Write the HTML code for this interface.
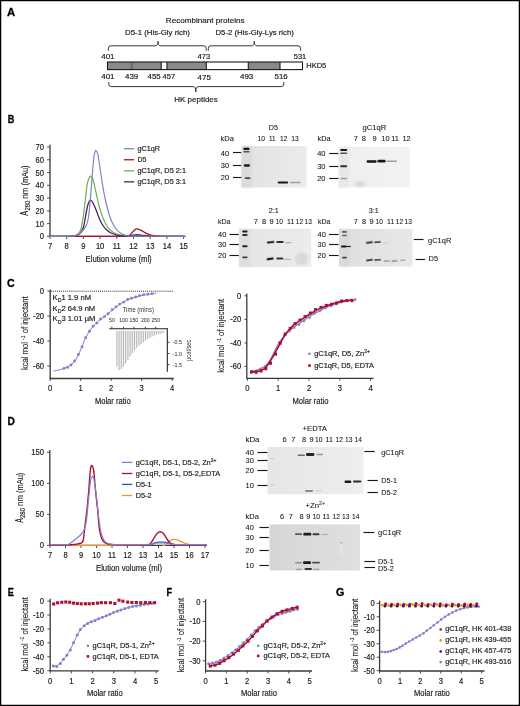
<!DOCTYPE html><html><head><meta charset="utf-8"><style>html,body{margin:0;padding:0;background:#fff;}svg{display:block;will-change:transform;}</style></head><body>
<svg width="520" height="706" viewBox="0 0 520 706" font-family='"Liberation Sans", sans-serif'>
<rect x="0" y="0" width="520" height="706" fill="#ffffff"/>
<text x="7.0" y="16.4" font-size="11.2" textLength="8.2" lengthAdjust="spacingAndGlyphs" font-weight="bold" fill="#000" stroke="#000" stroke-width="0.3">A</text>
<text x="7.7" y="123.2" font-size="11.2" textLength="6.6" lengthAdjust="spacingAndGlyphs" font-weight="bold" fill="#000" stroke="#000" stroke-width="0.3">B</text>
<text x="7.0" y="286.6" font-size="11.2" textLength="7.7" lengthAdjust="spacingAndGlyphs" font-weight="bold" fill="#000" stroke="#000" stroke-width="0.3">C</text>
<text x="7.6" y="425.4" font-size="11.2" textLength="7.4" lengthAdjust="spacingAndGlyphs" font-weight="bold" fill="#000" stroke="#000" stroke-width="0.3">D</text>
<text x="7.8" y="595.8" font-size="11.2" textLength="6.1" lengthAdjust="spacingAndGlyphs" font-weight="bold" fill="#000" stroke="#000" stroke-width="0.3">E</text>
<text x="166.6" y="595.8" font-size="11.2" textLength="5.6" lengthAdjust="spacingAndGlyphs" font-weight="bold" fill="#000" stroke="#000" stroke-width="0.3">F</text>
<text x="336.1" y="596.3" font-size="11.2" textLength="8.3" lengthAdjust="spacingAndGlyphs" font-weight="bold" fill="#000" stroke="#000" stroke-width="0.3">G</text>
<text x="165.8" y="22.6" font-size="7.6" textLength="78.8" lengthAdjust="spacingAndGlyphs" fill="#1c1c1c" stroke="#1c1c1c" stroke-width="0.18">Recombinant proteins</text>
<text x="125.0" y="34.5" font-size="7.6" textLength="65.0" lengthAdjust="spacingAndGlyphs" fill="#1c1c1c" stroke="#1c1c1c" stroke-width="0.18">D5-1 (His-Gly rich)</text>
<text x="215.5" y="34.5" font-size="7.6" textLength="78.3" lengthAdjust="spacingAndGlyphs" fill="#1c1c1c" stroke="#1c1c1c" stroke-width="0.18">D5-2 (His-Gly-Lys rich)</text>
<path d="M108.4,50.3 L108.4,48.3 Q108.4,45.8 110.9,45.8 L155.5,45.8 Q158.0,45.8 158.0,41.3 Q158.0,45.8 160.5,45.8 L203.7,45.8 Q206.2,45.8 206.2,48.3 L206.2,50.3" stroke="#231f20" stroke-width="0.9" fill="none" stroke-linejoin="round" stroke-linecap="round"/>
<path d="M208.3,50.3 L208.3,48.3 Q208.3,45.8 210.8,45.8 L251.8,45.8 Q254.3,45.8 254.3,41.3 Q254.3,45.8 256.8,45.8 L298.1,45.8 Q300.6,45.8 300.6,48.3 L300.6,50.3" stroke="#231f20" stroke-width="0.9" fill="none" stroke-linejoin="round" stroke-linecap="round"/>
<text x="101.3" y="58.8" font-size="7.2" textLength="13.2" lengthAdjust="spacingAndGlyphs" fill="#1c1c1c" stroke="#1c1c1c" stroke-width="0.18">401</text>
<text x="197.6" y="58.8" font-size="7.2" textLength="12.6" lengthAdjust="spacingAndGlyphs" fill="#1c1c1c" stroke="#1c1c1c" stroke-width="0.18">473</text>
<text x="293.8" y="58.8" font-size="7.2" textLength="12.4" lengthAdjust="spacingAndGlyphs" fill="#1c1c1c" stroke="#1c1c1c" stroke-width="0.18">531</text>
<rect x="107.5" y="62" width="195" height="8" fill="#ffffff"/>
<rect x="107.5" y="62" width="22.6" height="8" fill="#8a8a8a"/>
<rect x="130.1" y="62" width="3.7" height="8" fill="#6e6e6e"/>
<rect x="133.8" y="62" width="27.4" height="8" fill="#8a8a8a"/>
<rect x="167.0" y="62" width="39.3" height="8" fill="#8a8a8a"/>
<rect x="248.3" y="62" width="31.7" height="8" fill="#8a8a8a"/>
<line x1="161.2" y1="62" x2="161.2" y2="69.6" stroke="#1a1a1a" stroke-width="1.1"/>
<line x1="167.0" y1="62" x2="167.0" y2="69.6" stroke="#1a1a1a" stroke-width="1.1"/>
<line x1="206.3" y1="62" x2="206.3" y2="69.6" stroke="#1a1a1a" stroke-width="1.1"/>
<line x1="248.3" y1="62" x2="248.3" y2="69.6" stroke="#1a1a1a" stroke-width="1.1"/>
<line x1="280.0" y1="62" x2="280.0" y2="69.6" stroke="#1a1a1a" stroke-width="1.1"/>
<rect x="107.5" y="62" width="195" height="7.6" fill="none" stroke="#1a1a1a" stroke-width="1.1"/>
<text x="306.3" y="68.4" font-size="7.6" textLength="20.0" lengthAdjust="spacingAndGlyphs" fill="#1c1c1c" stroke="#1c1c1c" stroke-width="0.18">HKD5</text>
<text x="101.3" y="79.0" font-size="7.2" textLength="13.2" lengthAdjust="spacingAndGlyphs" fill="#1c1c1c" stroke="#1c1c1c" stroke-width="0.18">401</text>
<text x="125.0" y="79.0" font-size="7.2" textLength="13.2" lengthAdjust="spacingAndGlyphs" fill="#1c1c1c" stroke="#1c1c1c" stroke-width="0.18">439</text>
<text x="147.5" y="79.0" font-size="7.2" textLength="13.2" lengthAdjust="spacingAndGlyphs" fill="#1c1c1c" stroke="#1c1c1c" stroke-width="0.18">455</text>
<text x="162.5" y="79.0" font-size="7.2" textLength="12.6" lengthAdjust="spacingAndGlyphs" fill="#1c1c1c" stroke="#1c1c1c" stroke-width="0.18">457</text>
<text x="197.6" y="79.6" font-size="7.2" textLength="13.2" lengthAdjust="spacingAndGlyphs" fill="#1c1c1c" stroke="#1c1c1c" stroke-width="0.18">475</text>
<text x="240.0" y="79.0" font-size="7.2" textLength="13.2" lengthAdjust="spacingAndGlyphs" fill="#1c1c1c" stroke="#1c1c1c" stroke-width="0.18">493</text>
<text x="274.5" y="79.0" font-size="7.2" textLength="13.2" lengthAdjust="spacingAndGlyphs" fill="#1c1c1c" stroke="#1c1c1c" stroke-width="0.18">516</text>
<path d="M108.8,82.4 L108.8,84.1 Q108.8,86.6 111.3,86.6 L193.3,86.6 Q195.8,86.6 195.8,92.0 Q195.8,86.6 198.3,86.6 L281.3,86.6 Q283.8,86.6 283.8,84.1 L283.8,82.4" stroke="#231f20" stroke-width="0.9" fill="none" stroke-linejoin="round" stroke-linecap="round"/>
<text x="174.3" y="102.2" font-size="7.6" textLength="43.5" lengthAdjust="spacingAndGlyphs" fill="#1c1c1c" stroke="#1c1c1c" stroke-width="0.18">HK peptides</text>
<line x1="50" y1="144.8" x2="50" y2="236.4" stroke="#3a3a3a" stroke-width="1.3"/>
<line x1="49.4" y1="236.4" x2="184.8" y2="236.4" stroke="#3a3a3a" stroke-width="1.3"/>
<line x1="47.0" y1="236.4" x2="50" y2="236.4" stroke="#3a3a3a" stroke-width="0.9"/>
<text x="44.0" y="239.4" font-size="8.3" text-anchor="end" textLength="4.23" lengthAdjust="spacingAndGlyphs" fill="#1c1c1c" stroke="#1c1c1c" stroke-width="0.18">0</text>
<line x1="47.0" y1="223.63" x2="50" y2="223.63" stroke="#3a3a3a" stroke-width="0.9"/>
<text x="44.0" y="226.63" font-size="8.3" text-anchor="end" textLength="8.45" lengthAdjust="spacingAndGlyphs" fill="#1c1c1c" stroke="#1c1c1c" stroke-width="0.18">10</text>
<line x1="47.0" y1="210.86" x2="50" y2="210.86" stroke="#3a3a3a" stroke-width="0.9"/>
<text x="44.0" y="213.86" font-size="8.3" text-anchor="end" textLength="8.45" lengthAdjust="spacingAndGlyphs" fill="#1c1c1c" stroke="#1c1c1c" stroke-width="0.18">20</text>
<line x1="47.0" y1="198.09" x2="50" y2="198.09" stroke="#3a3a3a" stroke-width="0.9"/>
<text x="44.0" y="201.09" font-size="8.3" text-anchor="end" textLength="8.45" lengthAdjust="spacingAndGlyphs" fill="#1c1c1c" stroke="#1c1c1c" stroke-width="0.18">30</text>
<line x1="47.0" y1="185.32" x2="50" y2="185.32" stroke="#3a3a3a" stroke-width="0.9"/>
<text x="44.0" y="188.32" font-size="8.3" text-anchor="end" textLength="8.45" lengthAdjust="spacingAndGlyphs" fill="#1c1c1c" stroke="#1c1c1c" stroke-width="0.18">40</text>
<line x1="47.0" y1="172.55" x2="50" y2="172.55" stroke="#3a3a3a" stroke-width="0.9"/>
<text x="44.0" y="175.55" font-size="8.3" text-anchor="end" textLength="8.45" lengthAdjust="spacingAndGlyphs" fill="#1c1c1c" stroke="#1c1c1c" stroke-width="0.18">50</text>
<line x1="47.0" y1="159.78000000000003" x2="50" y2="159.78000000000003" stroke="#3a3a3a" stroke-width="0.9"/>
<text x="44.0" y="162.78000000000003" font-size="8.3" text-anchor="end" textLength="8.45" lengthAdjust="spacingAndGlyphs" fill="#1c1c1c" stroke="#1c1c1c" stroke-width="0.18">60</text>
<line x1="47.0" y1="147.01" x2="50" y2="147.01" stroke="#3a3a3a" stroke-width="0.9"/>
<text x="44.0" y="150.01" font-size="8.3" text-anchor="end" textLength="8.45" lengthAdjust="spacingAndGlyphs" fill="#1c1c1c" stroke="#1c1c1c" stroke-width="0.18">70</text>
<line x1="50.0" y1="236.4" x2="50.0" y2="239.0" stroke="#3a3a3a" stroke-width="0.9"/>
<text x="50.0" y="249.1" font-size="8.3" text-anchor="middle" textLength="4.23" lengthAdjust="spacingAndGlyphs" fill="#1c1c1c" stroke="#1c1c1c" stroke-width="0.18">7</text>
<line x1="66.7" y1="236.4" x2="66.7" y2="239.0" stroke="#3a3a3a" stroke-width="0.9"/>
<text x="66.7" y="249.1" font-size="8.3" text-anchor="middle" textLength="4.23" lengthAdjust="spacingAndGlyphs" fill="#1c1c1c" stroke="#1c1c1c" stroke-width="0.18">8</text>
<line x1="83.4" y1="236.4" x2="83.4" y2="239.0" stroke="#3a3a3a" stroke-width="0.9"/>
<text x="83.4" y="249.1" font-size="8.3" text-anchor="middle" textLength="4.23" lengthAdjust="spacingAndGlyphs" fill="#1c1c1c" stroke="#1c1c1c" stroke-width="0.18">9</text>
<line x1="100.1" y1="236.4" x2="100.1" y2="239.0" stroke="#3a3a3a" stroke-width="0.9"/>
<text x="100.1" y="249.1" font-size="8.3" text-anchor="middle" textLength="8.45" lengthAdjust="spacingAndGlyphs" fill="#1c1c1c" stroke="#1c1c1c" stroke-width="0.18">10</text>
<line x1="116.8" y1="236.4" x2="116.8" y2="239.0" stroke="#3a3a3a" stroke-width="0.9"/>
<text x="116.8" y="249.1" font-size="8.3" text-anchor="middle" textLength="7.89" lengthAdjust="spacingAndGlyphs" fill="#1c1c1c" stroke="#1c1c1c" stroke-width="0.18">11</text>
<line x1="133.5" y1="236.4" x2="133.5" y2="239.0" stroke="#3a3a3a" stroke-width="0.9"/>
<text x="133.5" y="249.1" font-size="8.3" text-anchor="middle" textLength="8.45" lengthAdjust="spacingAndGlyphs" fill="#1c1c1c" stroke="#1c1c1c" stroke-width="0.18">12</text>
<line x1="150.2" y1="236.4" x2="150.2" y2="239.0" stroke="#3a3a3a" stroke-width="0.9"/>
<text x="150.2" y="249.1" font-size="8.3" text-anchor="middle" textLength="8.45" lengthAdjust="spacingAndGlyphs" fill="#1c1c1c" stroke="#1c1c1c" stroke-width="0.18">13</text>
<line x1="166.89999999999998" y1="236.4" x2="166.89999999999998" y2="239.0" stroke="#3a3a3a" stroke-width="0.9"/>
<text x="166.89999999999998" y="249.1" font-size="8.3" text-anchor="middle" textLength="8.45" lengthAdjust="spacingAndGlyphs" fill="#1c1c1c" stroke="#1c1c1c" stroke-width="0.18">14</text>
<line x1="183.6" y1="236.4" x2="183.6" y2="239.0" stroke="#3a3a3a" stroke-width="0.9"/>
<text x="183.6" y="249.1" font-size="8.3" text-anchor="middle" textLength="8.45" lengthAdjust="spacingAndGlyphs" fill="#1c1c1c" stroke="#1c1c1c" stroke-width="0.18">15</text>
<text x="85.6" y="262.1" font-size="9.2" textLength="66.1" lengthAdjust="spacingAndGlyphs" fill="#1c1c1c" stroke="#1c1c1c" stroke-width="0.18">Elution volume (ml)</text>
<g transform="translate(27.7,215.7) rotate(-90)" fill="#1c1c1c" stroke="#1c1c1c" stroke-width="0.12">
<text x="0" y="0" font-size="10" textLength="4.9" lengthAdjust="spacingAndGlyphs">A</text>
<text x="5.1" y="1.8" font-size="7" textLength="10.0" lengthAdjust="spacingAndGlyphs">280</text>
<text x="17.0" y="0" font-size="9" textLength="11.1" lengthAdjust="spacingAndGlyphs">nm</text>
<text x="30.2" y="0" font-size="9" textLength="20.0" lengthAdjust="spacingAndGlyphs">(mAu)</text>
</g>
<path d="M50.00,236.40 C62.67,236.40 112.83,236.53 126.00,236.40 C139.17,236.27 128.17,236.00 129.00,235.60 C129.83,235.20 130.33,234.67 131.00,234.00 C131.67,233.33 132.33,232.33 133.00,231.60 C133.67,230.87 134.37,230.05 135.00,229.60 C135.63,229.15 136.13,228.95 136.80,228.90 C137.47,228.85 138.13,228.97 139.00,229.30 C139.87,229.63 140.83,230.25 142.00,230.90 C143.17,231.55 144.67,232.53 146.00,233.20 C147.33,233.87 148.50,234.45 150.00,234.90 C151.50,235.35 153.00,235.67 155.00,235.90 C157.00,236.13 157.03,236.22 162.00,236.30 C166.97,236.38 181.00,236.38 184.80,236.40" stroke="#ad1033" stroke-width="1.3" fill="none" stroke-linejoin="round" stroke-linecap="round"/>
<path d="M50.00,236.40 C53.33,236.38 65.83,236.43 70.00,236.30 C74.17,236.17 73.67,235.98 75.00,235.60 C76.33,235.22 77.17,234.68 78.00,234.00 C78.83,233.32 79.42,232.67 80.00,231.50 C80.58,230.33 81.00,229.25 81.50,227.00 C82.00,224.75 82.55,221.00 83.00,218.00 C83.45,215.00 83.82,212.00 84.20,209.00 C84.58,206.00 84.95,203.00 85.30,200.00 C85.65,197.00 85.97,193.67 86.30,191.00 C86.63,188.33 86.93,185.95 87.30,184.00 C87.67,182.05 88.00,180.60 88.50,179.30 C89.00,178.00 89.75,176.62 90.30,176.20 C90.85,175.78 91.35,176.25 91.80,176.80 C92.25,177.35 92.53,177.88 93.00,179.50 C93.47,181.12 94.02,184.00 94.60,186.50 C95.18,189.00 95.88,191.75 96.50,194.50 C97.12,197.25 97.55,200.00 98.30,203.00 C99.05,206.00 99.97,209.42 101.00,212.50 C102.03,215.58 103.17,218.78 104.50,221.50 C105.83,224.22 107.08,226.75 109.00,228.80 C110.92,230.85 113.50,232.67 116.00,233.80 C118.50,234.93 121.33,235.23 124.00,235.60 C126.67,235.97 129.83,236.03 132.00,236.00 C134.17,235.97 135.33,235.47 137.00,235.40 C138.67,235.33 139.83,235.48 142.00,235.60 C144.17,235.72 147.00,235.98 150.00,236.10 C153.00,236.22 154.20,236.25 160.00,236.30 C165.80,236.35 180.67,236.38 184.80,236.40" stroke="#6ab446" stroke-width="1.2" fill="none" stroke-linejoin="round" stroke-linecap="round"/>
<path d="M50.00,236.40 C53.33,236.38 65.67,236.43 70.00,236.30 C74.33,236.17 74.50,235.95 76.00,235.60 C77.50,235.25 78.08,234.87 79.00,234.20 C79.92,233.53 80.75,232.80 81.50,231.60 C82.25,230.40 82.92,229.02 83.50,227.00 C84.08,224.98 84.50,222.17 85.00,219.50 C85.50,216.83 85.95,213.67 86.50,211.00 C87.05,208.33 87.63,205.30 88.30,203.50 C88.97,201.70 89.75,200.35 90.50,200.20 C91.25,200.05 91.88,201.00 92.80,202.60 C93.72,204.20 94.97,207.27 96.00,209.80 C97.03,212.33 98.00,215.43 99.00,217.80 C100.00,220.17 100.83,222.10 102.00,224.00 C103.17,225.90 104.50,227.70 106.00,229.20 C107.50,230.70 109.00,231.98 111.00,233.00 C113.00,234.02 115.50,234.80 118.00,235.30 C120.50,235.80 123.83,235.95 126.00,236.00 C128.17,236.05 129.50,235.78 131.00,235.60 C132.50,235.42 133.67,235.03 135.00,234.90 C136.33,234.77 137.67,234.72 139.00,234.80 C140.33,234.88 141.17,235.18 143.00,235.40 C144.83,235.62 147.17,235.95 150.00,236.10 C152.83,236.25 154.20,236.25 160.00,236.30 C165.80,236.35 180.67,236.38 184.80,236.40" stroke="#4e1d63" stroke-width="1.3" fill="none" stroke-linejoin="round" stroke-linecap="round"/>
<path d="M50.00,236.40 C53.33,236.37 65.67,236.35 70.00,236.20 C74.33,236.05 74.33,236.00 76.00,235.50 C77.67,235.00 78.67,234.25 80.00,233.20 C81.33,232.15 82.92,230.57 84.00,229.20 C85.08,227.83 85.83,226.53 86.50,225.00 C87.17,223.47 87.58,222.00 88.00,220.00 C88.42,218.00 88.67,215.83 89.00,213.00 C89.33,210.17 89.67,206.67 90.00,203.00 C90.33,199.33 90.67,195.08 91.00,191.00 C91.33,186.92 91.67,182.67 92.00,178.50 C92.33,174.33 92.63,169.92 93.00,166.00 C93.37,162.08 93.83,157.47 94.20,155.00 C94.57,152.53 94.90,151.92 95.20,151.20 C95.50,150.48 95.70,150.60 96.00,150.70 C96.30,150.80 96.67,151.08 97.00,151.80 C97.33,152.52 97.58,152.88 98.00,155.00 C98.42,157.12 98.92,160.67 99.50,164.50 C100.08,168.33 100.83,173.67 101.50,178.00 C102.17,182.33 102.75,186.42 103.50,190.50 C104.25,194.58 105.08,198.58 106.00,202.50 C106.92,206.42 108.00,210.75 109.00,214.00 C110.00,217.25 110.83,219.50 112.00,222.00 C113.17,224.50 114.50,227.10 116.00,229.00 C117.50,230.90 119.33,232.35 121.00,233.40 C122.67,234.45 123.83,234.85 126.00,235.30 C128.17,235.75 124.20,235.93 134.00,236.10 C143.80,236.27 176.33,236.27 184.80,236.30" stroke="#8080cc" stroke-width="1.2" fill="none" stroke-linejoin="round" stroke-linecap="round"/>
<line x1="124.0" y1="148.7" x2="134.2" y2="148.7" stroke="#8080cc" stroke-width="1.3"/>
<text x="137.4" y="151.29999999999998" font-size="7.2" textLength="22.6" lengthAdjust="spacingAndGlyphs" fill="#1c1c1c" stroke="#1c1c1c" stroke-width="0.18">gC1qR</text>
<line x1="124.0" y1="159.75" x2="134.2" y2="159.75" stroke="#ad1033" stroke-width="1.3"/>
<text x="137.4" y="162.35" font-size="7.2" textLength="9.0" lengthAdjust="spacingAndGlyphs" fill="#1c1c1c" stroke="#1c1c1c" stroke-width="0.18">D5</text>
<line x1="124.0" y1="170.79999999999998" x2="134.2" y2="170.79999999999998" stroke="#6ab446" stroke-width="1.3"/>
<text x="137.4" y="173.39999999999998" font-size="7.2" textLength="48.6" lengthAdjust="spacingAndGlyphs" fill="#1c1c1c" stroke="#1c1c1c" stroke-width="0.18">gC1qR, D5 2:1</text>
<line x1="124.0" y1="181.85" x2="134.2" y2="181.85" stroke="#4e1d63" stroke-width="1.3"/>
<text x="137.4" y="184.45" font-size="7.2" textLength="48.6" lengthAdjust="spacingAndGlyphs" fill="#1c1c1c" stroke="#1c1c1c" stroke-width="0.18">gC1qR, D5 3:1</text>
<defs><filter id="bl" x="-20%" y="-200%" width="140%" height="500%"><feGaussianBlur stdDeviation="0.65"/></filter><filter id="bl2" x="-50%" y="-50%" width="200%" height="200%"><feGaussianBlur stdDeviation="1.2"/></filter></defs>
<linearGradient id="g241146" x1="0" y1="0" x2="1" y2="0"><stop offset="0" stop-color="#e2e2e2"/><stop offset="1" stop-color="#ebebeb"/></linearGradient>
<rect x="241.3" y="146" width="65.2" height="41.6" fill="url(#g241146)"/>
<rect x="242" y="146" width="10" height="41.6" fill="#d6d6d6" filter="url(#bl2)" opacity="0.6"/>
<rect x="243.2" y="147.70" width="6.40" height="2.2" rx="1.1" fill="#161616" filter="url(#bl)"/>
<rect x="243.4" y="151.00" width="6.20" height="1.6" rx="0.8" fill="#505050" filter="url(#bl)"/>
<rect x="243.8" y="164.35" width="6.20" height="2.3" rx="1.15" fill="#1a1a1a" filter="url(#bl)"/>
<rect x="244.8" y="177.30" width="5.70" height="1.8" rx="0.9" fill="#4a4a4a" filter="url(#bl)"/>
<rect x="277.7" y="181.40" width="10.50" height="2.0" rx="1.0" fill="#1a1a1a" filter="url(#bl)"/>
<rect x="290.0" y="181.85" width="10.80" height="1.5" rx="0.75" fill="#a0a0a0" filter="url(#bl)"/>
<text x="268.8" y="130.0" font-size="7.6" textLength="9.2" lengthAdjust="spacingAndGlyphs" fill="#141414" stroke="#141414" stroke-width="0.07">D5</text>
<text x="220.5" y="141.3" font-size="7.4" textLength="13.3" lengthAdjust="spacingAndGlyphs" fill="#141414" stroke="#141414" stroke-width="0.07">kDa</text>
<text x="257.5" y="141.3" font-size="7.4" textLength="7.4" lengthAdjust="spacingAndGlyphs" fill="#141414" stroke="#141414" stroke-width="0.07">10</text>
<text x="269.0" y="141.3" font-size="7.4" textLength="6.6" lengthAdjust="spacingAndGlyphs" fill="#141414" stroke="#141414" stroke-width="0.07">11</text>
<text x="280.0" y="141.3" font-size="7.4" textLength="7.4" lengthAdjust="spacingAndGlyphs" fill="#141414" stroke="#141414" stroke-width="0.07">12</text>
<text x="291.3" y="141.3" font-size="7.4" textLength="7.4" lengthAdjust="spacingAndGlyphs" fill="#141414" stroke="#141414" stroke-width="0.07">13</text>
<text x="220.8" y="155.5" font-size="7.4" textLength="8.3" lengthAdjust="spacingAndGlyphs" fill="#141414" stroke="#141414" stroke-width="0.07">40</text>
<line x1="233.0" y1="152.5" x2="241.3" y2="152.5" stroke="#1a1a1a" stroke-width="1.15"/>
<text x="220.8" y="168.1" font-size="7.4" textLength="8.3" lengthAdjust="spacingAndGlyphs" fill="#141414" stroke="#141414" stroke-width="0.07">30</text>
<line x1="233.0" y1="165.5" x2="241.3" y2="165.5" stroke="#1a1a1a" stroke-width="1.15"/>
<text x="220.8" y="180.1" font-size="7.4" textLength="8.3" lengthAdjust="spacingAndGlyphs" fill="#141414" stroke="#141414" stroke-width="0.07">20</text>
<line x1="233.0" y1="177.5" x2="241.3" y2="177.5" stroke="#1a1a1a" stroke-width="1.15"/>
<linearGradient id="g338146" x1="0" y1="0" x2="1" y2="0"><stop offset="0" stop-color="#eeeeee"/><stop offset="1" stop-color="#f3f3f3"/></linearGradient>
<rect x="338.4" y="146.8" width="71.6" height="40.7" fill="url(#g338146)"/>
<rect x="339" y="146.8" width="10" height="40.7" fill="#e4e4e4" filter="url(#bl2)" opacity="0.6"/>
<rect x="340.2" y="149.05" width="7.00" height="1.9" rx="0.95" fill="#1e1e1e" filter="url(#bl)"/>
<rect x="340.2" y="152.40" width="7.00" height="1.6" rx="0.8" fill="#555" filter="url(#bl)"/>
<rect x="340.2" y="165.35" width="7.00" height="1.9" rx="0.95" fill="#2e2e2e" filter="url(#bl)"/>
<rect x="340.4" y="177.75" width="6.80" height="1.5" rx="0.75" fill="#9a9a9a" filter="url(#bl)"/>
<rect x="366.6" y="160.15" width="10.00" height="2.5" rx="1.2" fill="#121212" filter="url(#bl)"/>
<rect x="377.4" y="159.75" width="8.20" height="2.7" rx="1.2" fill="#121212" filter="url(#bl)"/>
<rect x="386.3" y="160.60" width="10.70" height="1.4" rx="0.7" fill="#a0a0a0" filter="url(#bl)"/>
<ellipse cx="360" cy="184" rx="5.8" ry="3.0" fill="#d8d8d8" filter="url(#bl2)"/>
<text x="362.5" y="130.0" font-size="7.6" textLength="23.8" lengthAdjust="spacingAndGlyphs" fill="#141414" stroke="#141414" stroke-width="0.07">gC1qR</text>
<text x="317.5" y="141.3" font-size="7.4" textLength="13.0" lengthAdjust="spacingAndGlyphs" fill="#141414" stroke="#141414" stroke-width="0.07">kDa</text>
<text x="353.8" y="141.3" font-size="7.4" fill="#141414" stroke="#141414" stroke-width="0.07">7</text>
<text x="361.8" y="141.3" font-size="7.4" fill="#141414" stroke="#141414" stroke-width="0.07">8</text>
<text x="372.5" y="141.3" font-size="7.4" fill="#141414" stroke="#141414" stroke-width="0.07">9</text>
<text x="381.3" y="141.3" font-size="7.4" fill="#141414" stroke="#141414" stroke-width="0.07">10</text>
<text x="391.3" y="141.3" font-size="7.4" fill="#141414" stroke="#141414" stroke-width="0.07">11</text>
<text x="402.5" y="141.3" font-size="7.4" fill="#141414" stroke="#141414" stroke-width="0.07">12</text>
<text x="317.2" y="156.1" font-size="7.4" textLength="8.3" lengthAdjust="spacingAndGlyphs" fill="#141414" stroke="#141414" stroke-width="0.07">40</text>
<line x1="329.2" y1="153.5" x2="338.4" y2="153.5" stroke="#1a1a1a" stroke-width="1.15"/>
<text x="317.2" y="169.1" font-size="7.4" textLength="8.3" lengthAdjust="spacingAndGlyphs" fill="#141414" stroke="#141414" stroke-width="0.07">30</text>
<line x1="329.2" y1="166.5" x2="338.4" y2="166.5" stroke="#1a1a1a" stroke-width="1.15"/>
<text x="317.2" y="181.1" font-size="7.4" textLength="8.3" lengthAdjust="spacingAndGlyphs" fill="#141414" stroke="#141414" stroke-width="0.07">20</text>
<line x1="329.2" y1="178.5" x2="338.4" y2="178.5" stroke="#1a1a1a" stroke-width="1.15"/>
<linearGradient id="g238228" x1="0" y1="0" x2="1" y2="0"><stop offset="0" stop-color="#e4e4e4"/><stop offset="1" stop-color="#ececec"/></linearGradient>
<rect x="238.8" y="228.8" width="72.5" height="38.2" fill="url(#g238228)"/>
<rect x="240" y="228.8" width="10" height="38.2" fill="#dadada" filter="url(#bl2)" opacity="0.6"/>
<rect x="242.2" y="230.50" width="5.40" height="2.0" rx="1.0" fill="#1e1e1e" filter="url(#bl)"/>
<rect x="242.2" y="234.10" width="5.40" height="1.8" rx="0.9" fill="#2e2e2e" filter="url(#bl)"/>
<rect x="242.2" y="245.20" width="5.40" height="2.0" rx="1.0" fill="#222" filter="url(#bl)"/>
<rect x="242.2" y="256.40" width="5.40" height="1.8" rx="0.9" fill="#3a3a3a" filter="url(#bl)"/>
<rect x="266.8" y="241.25" width="7.70" height="2.1" rx="1.05" fill="#1e1e1e" filter="url(#bl)" transform="rotate(-6 270.65 242.30)"/>
<rect x="276.3" y="241.10" width="7.40" height="2.0" rx="1.0" fill="#2e2e2e" filter="url(#bl)"/>
<rect x="285.0" y="241.95" width="6.30" height="1.3" rx="0.65" fill="#b0b0b0" filter="url(#bl)"/>
<rect x="266.5" y="257.85" width="7.20" height="2.1" rx="1.05" fill="#1e1e1e" filter="url(#bl)" transform="rotate(-9 270.10 258.90)"/>
<rect x="276.3" y="257.55" width="7.10" height="1.9" rx="0.95" fill="#383838" filter="url(#bl)"/>
<rect x="284.0" y="258.65" width="7.00" height="1.3" rx="0.65" fill="#bcbcbc" filter="url(#bl)"/>
<circle cx="301.4" cy="258.8" r="6.8" fill="#dadada" filter="url(#bl2)"/>
<text x="268.8" y="213.0" font-size="7.6" textLength="10.0" lengthAdjust="spacingAndGlyphs" fill="#141414" stroke="#141414" stroke-width="0.07">2:1</text>
<text x="218.0" y="223.8" font-size="7.4" textLength="12.5" lengthAdjust="spacingAndGlyphs" fill="#141414" stroke="#141414" stroke-width="0.07">kDa</text>
<text x="253.8" y="223.8" font-size="7.4" fill="#141414" stroke="#141414" stroke-width="0.07">7</text>
<text x="262.0" y="223.8" font-size="7.4" fill="#141414" stroke="#141414" stroke-width="0.07">8</text>
<text x="269.5" y="223.8" font-size="7.4" fill="#141414" stroke="#141414" stroke-width="0.07">9</text>
<text x="275.5" y="223.8" font-size="7.4" textLength="7.3" lengthAdjust="spacingAndGlyphs" fill="#141414" stroke="#141414" stroke-width="0.07">10</text>
<text x="287.0" y="223.8" font-size="7.4" textLength="7.3" lengthAdjust="spacingAndGlyphs" fill="#141414" stroke="#141414" stroke-width="0.07">11</text>
<text x="295.8" y="223.8" font-size="7.4" textLength="7.3" lengthAdjust="spacingAndGlyphs" fill="#141414" stroke="#141414" stroke-width="0.07">12</text>
<text x="304.5" y="223.8" font-size="7.4" textLength="7.3" lengthAdjust="spacingAndGlyphs" fill="#141414" stroke="#141414" stroke-width="0.07">13</text>
<text x="218.0" y="236.9" font-size="7.4" textLength="8.3" lengthAdjust="spacingAndGlyphs" fill="#141414" stroke="#141414" stroke-width="0.07">40</text>
<line x1="229.5" y1="234.5" x2="238.8" y2="234.5" stroke="#1a1a1a" stroke-width="1.15"/>
<text x="218.0" y="247.1" font-size="7.4" textLength="8.3" lengthAdjust="spacingAndGlyphs" fill="#141414" stroke="#141414" stroke-width="0.07">30</text>
<line x1="229.5" y1="244.5" x2="238.8" y2="244.5" stroke="#1a1a1a" stroke-width="1.15"/>
<text x="218.0" y="257.6" font-size="7.4" textLength="8.3" lengthAdjust="spacingAndGlyphs" fill="#141414" stroke="#141414" stroke-width="0.07">20</text>
<line x1="229.5" y1="255.5" x2="238.8" y2="255.5" stroke="#1a1a1a" stroke-width="1.15"/>
<linearGradient id="g339229" x1="0" y1="0" x2="1" y2="0"><stop offset="0" stop-color="#dedede"/><stop offset="1" stop-color="#e8e8e8"/></linearGradient>
<rect x="339.0" y="229.0" width="73.5" height="37.5" fill="url(#g339229)"/>
<rect x="340" y="229.0" width="10" height="37.5" fill="#d6d6d6" filter="url(#bl2)" opacity="0.6"/>
<rect x="342" y="231.10" width="4.80" height="1.6" rx="0.8" fill="#5a5a5a" filter="url(#bl)"/>
<rect x="342" y="234.70" width="4.80" height="1.6" rx="0.8" fill="#6a6a6a" filter="url(#bl)"/>
<rect x="341" y="245.40" width="5.50" height="2.2" rx="1.1" fill="#141414" filter="url(#bl)"/>
<rect x="342" y="256.70" width="5.00" height="1.8" rx="0.9" fill="#4a4a4a" filter="url(#bl)"/>
<line x1="345" y1="246.5" x2="350.8" y2="246.5" stroke="#1a1a1a" stroke-width="1.1"/>
<text x="368.8" y="213.0" font-size="7.6" textLength="10.0" lengthAdjust="spacingAndGlyphs" fill="#141414" stroke="#141414" stroke-width="0.07">3:1</text>
<text x="318.0" y="223.8" font-size="7.4" textLength="12.5" lengthAdjust="spacingAndGlyphs" fill="#141414" stroke="#141414" stroke-width="0.07">kDa</text>
<text x="353.8" y="223.8" font-size="7.4" fill="#141414" stroke="#141414" stroke-width="0.07">7</text>
<text x="362.0" y="223.8" font-size="7.4" fill="#141414" stroke="#141414" stroke-width="0.07">8</text>
<text x="369.5" y="223.8" font-size="7.4" fill="#141414" stroke="#141414" stroke-width="0.07">9</text>
<text x="375.5" y="223.8" font-size="7.4" textLength="7.3" lengthAdjust="spacingAndGlyphs" fill="#141414" stroke="#141414" stroke-width="0.07">10</text>
<text x="387.0" y="223.8" font-size="7.4" textLength="7.3" lengthAdjust="spacingAndGlyphs" fill="#141414" stroke="#141414" stroke-width="0.07">11</text>
<text x="395.8" y="223.8" font-size="7.4" textLength="7.3" lengthAdjust="spacingAndGlyphs" fill="#141414" stroke="#141414" stroke-width="0.07">12</text>
<text x="404.5" y="223.8" font-size="7.4" textLength="7.3" lengthAdjust="spacingAndGlyphs" fill="#141414" stroke="#141414" stroke-width="0.07">13</text>
<text x="317.5" y="237.1" font-size="7.4" textLength="8.3" lengthAdjust="spacingAndGlyphs" fill="#141414" stroke="#141414" stroke-width="0.07">40</text>
<line x1="329.0" y1="234.5" x2="338.6" y2="234.5" stroke="#1a1a1a" stroke-width="1.15"/>
<text x="317.5" y="247.29999999999998" font-size="7.4" textLength="8.3" lengthAdjust="spacingAndGlyphs" fill="#141414" stroke="#141414" stroke-width="0.07">30</text>
<line x1="329.0" y1="244.5" x2="338.6" y2="244.5" stroke="#1a1a1a" stroke-width="1.15"/>
<text x="317.5" y="257.6" font-size="7.4" textLength="8.3" lengthAdjust="spacingAndGlyphs" fill="#141414" stroke="#141414" stroke-width="0.07">20</text>
<line x1="329.0" y1="255.5" x2="338.6" y2="255.5" stroke="#1a1a1a" stroke-width="1.15"/>
<rect x="366.0" y="241.60" width="6.90" height="1.8" rx="0.9" fill="#383838" filter="url(#bl)" transform="rotate(-9 369.45 242.50)"/>
<rect x="374.2" y="241.35" width="6.70" height="1.7" rx="0.85" fill="#484848" filter="url(#bl)" transform="rotate(-4 377.55 242.20)"/>
<rect x="383.0" y="242.45" width="6.00" height="1.1" rx="0.55" fill="#cccccc" filter="url(#bl)"/>
<rect x="366.0" y="259.15" width="7.00" height="1.9" rx="0.95" fill="#333" filter="url(#bl)" transform="rotate(-9 369.50 260.10)"/>
<rect x="374.2" y="259.05" width="6.80" height="1.7" rx="0.85" fill="#555" filter="url(#bl)" transform="rotate(-3 377.60 259.90)"/>
<rect x="383.7" y="260.35" width="6.10" height="1.5" rx="0.75" fill="#a0a0a0" filter="url(#bl)"/>
<rect x="391.4" y="260.20" width="6.10" height="1.6" rx="0.8" fill="#8e8e8e" filter="url(#bl)" transform="rotate(-5 394.45 261.00)"/>
<rect x="399.8" y="259.60" width="6.20" height="1.4" rx="0.7" fill="#b0b0b0" filter="url(#bl)" transform="rotate(-5 402.90 260.30)"/>
<line x1="413.8" y1="239.5" x2="423.5" y2="239.5" stroke="#1a1a1a" stroke-width="1.15"/>
<text x="428.1" y="242.5" font-size="7.6" textLength="23.2" lengthAdjust="spacingAndGlyphs" fill="#141414" stroke="#141414" stroke-width="0.07">gC1qR</text>
<line x1="415.6" y1="259.5" x2="425.0" y2="259.5" stroke="#1a1a1a" stroke-width="1.15"/>
<text x="428.5" y="261.3" font-size="7.6" textLength="9.6" lengthAdjust="spacingAndGlyphs" fill="#141414" stroke="#141414" stroke-width="0.07">D5</text>
<line x1="50.2" y1="289.4" x2="50.2" y2="378.5" stroke="#3a3a3a" stroke-width="1.3"/>
<line x1="49.6" y1="378.5" x2="173.8" y2="378.5" stroke="#3a3a3a" stroke-width="1.3"/>
<line x1="50.8" y1="291.2" x2="173" y2="291.2" stroke="#222" stroke-width="1.0" stroke-dasharray="1,1.05"/>
<line x1="47.3" y1="291.1" x2="50.2" y2="291.1" stroke="#3a3a3a" stroke-width="0.9"/>
<text x="44.1" y="294.1" font-size="8.3" text-anchor="end" textLength="4.23" lengthAdjust="spacingAndGlyphs" fill="#1c1c1c" stroke="#1c1c1c" stroke-width="0.18">0</text>
<line x1="47.3" y1="316.05" x2="50.2" y2="316.05" stroke="#3a3a3a" stroke-width="0.9"/>
<text x="44.1" y="319.05" font-size="8.3" text-anchor="end" textLength="10.98" lengthAdjust="spacingAndGlyphs" fill="#1c1c1c" stroke="#1c1c1c" stroke-width="0.18">-20</text>
<line x1="47.3" y1="341.0" x2="50.2" y2="341.0" stroke="#3a3a3a" stroke-width="0.9"/>
<text x="44.1" y="344.0" font-size="8.3" text-anchor="end" textLength="10.98" lengthAdjust="spacingAndGlyphs" fill="#1c1c1c" stroke="#1c1c1c" stroke-width="0.18">-40</text>
<line x1="47.3" y1="365.95000000000005" x2="50.2" y2="365.95000000000005" stroke="#3a3a3a" stroke-width="0.9"/>
<text x="44.1" y="368.95000000000005" font-size="8.3" text-anchor="end" textLength="10.98" lengthAdjust="spacingAndGlyphs" fill="#1c1c1c" stroke="#1c1c1c" stroke-width="0.18">-60</text>
<line x1="50.2" y1="378.5" x2="50.2" y2="381.0" stroke="#3a3a3a" stroke-width="0.9"/>
<text x="50.2" y="391.3" font-size="8.3" text-anchor="middle" textLength="4.23" lengthAdjust="spacingAndGlyphs" fill="#1c1c1c" stroke="#1c1c1c" stroke-width="0.18">0</text>
<line x1="80.7" y1="378.5" x2="80.7" y2="381.0" stroke="#3a3a3a" stroke-width="0.9"/>
<text x="80.7" y="391.3" font-size="8.3" text-anchor="middle" textLength="4.23" lengthAdjust="spacingAndGlyphs" fill="#1c1c1c" stroke="#1c1c1c" stroke-width="0.18">1</text>
<line x1="111.2" y1="378.5" x2="111.2" y2="381.0" stroke="#3a3a3a" stroke-width="0.9"/>
<text x="111.2" y="391.3" font-size="8.3" text-anchor="middle" textLength="4.23" lengthAdjust="spacingAndGlyphs" fill="#1c1c1c" stroke="#1c1c1c" stroke-width="0.18">2</text>
<line x1="141.7" y1="378.5" x2="141.7" y2="381.0" stroke="#3a3a3a" stroke-width="0.9"/>
<text x="141.7" y="391.3" font-size="8.3" text-anchor="middle" textLength="4.23" lengthAdjust="spacingAndGlyphs" fill="#1c1c1c" stroke="#1c1c1c" stroke-width="0.18">3</text>
<line x1="172.2" y1="378.5" x2="172.2" y2="381.0" stroke="#3a3a3a" stroke-width="0.9"/>
<text x="172.2" y="391.3" font-size="8.3" text-anchor="middle" textLength="4.23" lengthAdjust="spacingAndGlyphs" fill="#1c1c1c" stroke="#1c1c1c" stroke-width="0.18">4</text>
<text x="94.9" y="403.9" font-size="9.0" textLength="35.8" lengthAdjust="spacingAndGlyphs" fill="#1c1c1c" stroke="#1c1c1c" stroke-width="0.18">Molar ratio</text>
<text transform="translate(28.2,370.1) rotate(-90)" font-size="9" fill="#1c1c1c" stroke="#1c1c1c" stroke-width="0.12" textLength="73.8" lengthAdjust="spacingAndGlyphs">kcal mol <tspan font-size="5.8" dy="-3.4">-1</tspan><tspan dy="3.4"> of injectant</tspan></text>
<text x="52.6" y="300.0" font-size="7.6" fill="#1c1c1c" stroke="#1c1c1c" stroke-width="0.18">K<tspan font-size="5.2" dy="2.1">D</tspan><tspan dy="-2.1">1 1.9 nM</tspan></text>
<text x="52.6" y="310.7" font-size="7.6" fill="#1c1c1c" stroke="#1c1c1c" stroke-width="0.18">K<tspan font-size="5.2" dy="2.1">D</tspan><tspan dy="-2.1">2 64.9 nM</tspan></text>
<text x="52.6" y="321.4" font-size="7.6" fill="#1c1c1c" stroke="#1c1c1c" stroke-width="0.18">K<tspan font-size="5.2" dy="2.1">D</tspan><tspan dy="-2.1">3 1.01 µM</tspan></text>
<path d="M54.00,371.00 C55.00,370.78 58.00,370.27 60.00,369.70 C62.00,369.13 64.17,368.42 66.00,367.60 C67.83,366.78 69.50,365.93 71.00,364.80 C72.50,363.67 73.75,362.50 75.00,360.80 C76.25,359.10 77.42,356.82 78.50,354.60 C79.58,352.38 80.50,349.90 81.50,347.50 C82.50,345.10 83.42,342.53 84.50,340.20 C85.58,337.87 86.75,335.57 88.00,333.50 C89.25,331.43 90.50,329.65 92.00,327.80 C93.50,325.95 95.17,324.10 97.00,322.40 C98.83,320.70 100.83,319.33 103.00,317.60 C105.17,315.87 107.50,314.00 110.00,312.00 C112.50,310.00 115.33,307.50 118.00,305.60 C120.67,303.70 123.33,301.93 126.00,300.60 C128.67,299.27 131.33,298.47 134.00,297.60 C136.67,296.73 139.33,296.00 142.00,295.40 C144.67,294.80 147.70,294.37 150.00,294.00 C152.30,293.63 154.83,293.33 155.80,293.20" stroke="#8080cc" stroke-width="1.0" fill="none" stroke-linejoin="round" stroke-linecap="round"/>
<circle cx="64" cy="368.4" r="1.45" fill="#8080cc"/>
<circle cx="67.6" cy="367.4" r="1.45" fill="#8080cc"/>
<circle cx="71" cy="365" r="1.45" fill="#8080cc"/>
<circle cx="74.6" cy="361" r="1.45" fill="#8080cc"/>
<circle cx="78.4" cy="354.4" r="1.45" fill="#8080cc"/>
<circle cx="82" cy="347" r="1.45" fill="#8080cc"/>
<circle cx="85.6" cy="337.8" r="1.45" fill="#8080cc"/>
<circle cx="89.4" cy="331.3" r="1.45" fill="#8080cc"/>
<circle cx="93.1" cy="326.3" r="1.45" fill="#8080cc"/>
<circle cx="96.9" cy="323.1" r="1.45" fill="#8080cc"/>
<circle cx="100.6" cy="319" r="1.45" fill="#8080cc"/>
<circle cx="104.4" cy="316.6" r="1.45" fill="#8080cc"/>
<circle cx="108.1" cy="313.8" r="1.45" fill="#8080cc"/>
<circle cx="112.25" cy="309.8" r="1.45" fill="#8080cc"/>
<circle cx="116" cy="306.9" r="1.45" fill="#8080cc"/>
<circle cx="119.75" cy="304.1" r="1.45" fill="#8080cc"/>
<circle cx="123.75" cy="302.1" r="1.45" fill="#8080cc"/>
<circle cx="127.75" cy="299.4" r="1.45" fill="#8080cc"/>
<circle cx="131.5" cy="298.2" r="1.45" fill="#8080cc"/>
<circle cx="135.6" cy="297.0" r="1.45" fill="#8080cc"/>
<circle cx="139.6" cy="295.6" r="1.45" fill="#8080cc"/>
<circle cx="143.7" cy="294.6" r="1.45" fill="#8080cc"/>
<circle cx="147.8" cy="294.3" r="1.45" fill="#8080cc"/>
<circle cx="151.9" cy="293.8" r="1.45" fill="#8080cc"/>
<line x1="109.3" y1="328.8" x2="167.3" y2="328.8" stroke="#222" stroke-width="1.1"/>
<line x1="167.3" y1="328.2" x2="167.3" y2="371.7" stroke="#222" stroke-width="1.1"/>
<line x1="111.9" y1="326.6" x2="111.9" y2="328.8" stroke="#222" stroke-width="0.8"/>
<text x="111.9" y="321.5" font-size="5.6" text-anchor="middle" textLength="5.8" lengthAdjust="spacingAndGlyphs" fill="#1c1c1c">50</text>
<line x1="123.5" y1="326.6" x2="123.5" y2="328.8" stroke="#222" stroke-width="0.8"/>
<text x="123.5" y="321.5" font-size="5.6" text-anchor="middle" textLength="8.6" lengthAdjust="spacingAndGlyphs" fill="#1c1c1c">100</text>
<line x1="133.9" y1="326.6" x2="133.9" y2="328.8" stroke="#222" stroke-width="0.8"/>
<text x="133.9" y="321.5" font-size="5.6" text-anchor="middle" textLength="8.6" lengthAdjust="spacingAndGlyphs" fill="#1c1c1c">150</text>
<line x1="145.3" y1="326.6" x2="145.3" y2="328.8" stroke="#222" stroke-width="0.8"/>
<text x="145.3" y="321.5" font-size="5.6" text-anchor="middle" textLength="8.6" lengthAdjust="spacingAndGlyphs" fill="#1c1c1c">200</text>
<line x1="155.8" y1="326.6" x2="155.8" y2="328.8" stroke="#222" stroke-width="0.8"/>
<text x="155.8" y="321.5" font-size="5.6" text-anchor="middle" textLength="8.6" lengthAdjust="spacingAndGlyphs" fill="#1c1c1c">250</text>
<text x="122.7" y="312.0" font-size="7.0" textLength="31.2" lengthAdjust="spacingAndGlyphs" fill="#333">Time (mins)</text>
<line x1="167.3" y1="342.3" x2="169.6" y2="342.3" stroke="#222" stroke-width="0.8"/>
<text x="172.7" y="344.3" font-size="5.6" textLength="9.2" lengthAdjust="spacingAndGlyphs" fill="#1c1c1c">-0.5</text>
<line x1="167.3" y1="353.5" x2="169.6" y2="353.5" stroke="#222" stroke-width="0.8"/>
<text x="172.7" y="355.5" font-size="5.6" textLength="9.2" lengthAdjust="spacingAndGlyphs" fill="#1c1c1c">-1.0</text>
<line x1="167.3" y1="364.6" x2="169.6" y2="364.6" stroke="#222" stroke-width="0.8"/>
<text x="172.7" y="366.6" font-size="5.6" textLength="9.2" lengthAdjust="spacingAndGlyphs" fill="#1c1c1c">-1.5</text>
<text transform="translate(190.9,361.1) rotate(-90)" font-size="6.4" fill="#3a3a3a" textLength="21.6" lengthAdjust="spacingAndGlyphs">µcal/sec</text>
<polygon points="116.4,331.3 116.4,363.7 117.5,370.0 120.0,370.0 122.0,368.6 124.0,366.2 127.0,361.5 130.0,356.5 133.0,352.2 136.0,348.6 139.0,345.8 142.0,343.2 145.0,341.0 148.0,338.9 151.0,337.1 154.0,335.7 157.0,334.6 160.0,333.8 162.5,333.3 164.6,333.0 164.6,331.3" fill="#f4f4f4"/>
<line x1="116.90" y1="331.3" x2="116.90" y2="366.56" stroke="#a4a4a4" stroke-width="0.8"/>
<line x1="119.10" y1="331.3" x2="119.10" y2="370.00" stroke="#a4a4a4" stroke-width="0.8"/>
<line x1="121.30" y1="331.3" x2="121.30" y2="369.09" stroke="#a4a4a4" stroke-width="0.8"/>
<line x1="123.50" y1="331.3" x2="123.50" y2="366.80" stroke="#a4a4a4" stroke-width="0.8"/>
<line x1="125.70" y1="331.3" x2="125.70" y2="363.54" stroke="#a4a4a4" stroke-width="0.8"/>
<line x1="127.90" y1="331.3" x2="127.90" y2="360.00" stroke="#a4a4a4" stroke-width="0.8"/>
<line x1="130.10" y1="331.3" x2="130.10" y2="356.36" stroke="#a4a4a4" stroke-width="0.8"/>
<line x1="132.30" y1="331.3" x2="132.30" y2="353.20" stroke="#a4a4a4" stroke-width="0.8"/>
<line x1="134.50" y1="331.3" x2="134.50" y2="350.40" stroke="#a4a4a4" stroke-width="0.8"/>
<line x1="136.70" y1="331.3" x2="136.70" y2="347.95" stroke="#a4a4a4" stroke-width="0.8"/>
<line x1="138.90" y1="331.3" x2="138.90" y2="345.89" stroke="#a4a4a4" stroke-width="0.8"/>
<line x1="141.10" y1="331.3" x2="141.10" y2="343.98" stroke="#a4a4a4" stroke-width="0.8"/>
<line x1="143.30" y1="331.3" x2="143.30" y2="342.25" stroke="#a4a4a4" stroke-width="0.8"/>
<line x1="145.50" y1="331.3" x2="145.50" y2="340.65" stroke="#a4a4a4" stroke-width="0.8"/>
<line x1="147.70" y1="331.3" x2="147.70" y2="339.11" stroke="#a4a4a4" stroke-width="0.8"/>
<line x1="149.90" y1="331.3" x2="149.90" y2="337.76" stroke="#a4a4a4" stroke-width="0.8"/>
<line x1="152.10" y1="331.3" x2="152.10" y2="336.59" stroke="#a4a4a4" stroke-width="0.8"/>
<line x1="154.30" y1="331.3" x2="154.30" y2="335.59" stroke="#a4a4a4" stroke-width="0.8"/>
<line x1="156.50" y1="331.3" x2="156.50" y2="334.78" stroke="#a4a4a4" stroke-width="0.8"/>
<line x1="158.70" y1="331.3" x2="158.70" y2="334.15" stroke="#a4a4a4" stroke-width="0.8"/>
<line x1="160.90" y1="331.3" x2="160.90" y2="333.62" stroke="#a4a4a4" stroke-width="0.8"/>
<line x1="163.10" y1="331.3" x2="163.10" y2="333.21" stroke="#a4a4a4" stroke-width="0.8"/>
<line x1="116.4" y1="331.3" x2="164.8" y2="331.3" stroke="#c8c8c8" stroke-width="0.6"/>
<line x1="246.8" y1="293.4" x2="246.8" y2="378.3" stroke="#3a3a3a" stroke-width="1.3"/>
<line x1="246.2" y1="378.3" x2="373.6" y2="378.3" stroke="#3a3a3a" stroke-width="1.3"/>
<line x1="244.4" y1="295.8" x2="246.8" y2="295.8" stroke="#3a3a3a" stroke-width="0.9"/>
<text x="241.3" y="298.8" font-size="8.3" text-anchor="end" textLength="4.23" lengthAdjust="spacingAndGlyphs" fill="#1c1c1c" stroke="#1c1c1c" stroke-width="0.18">0</text>
<line x1="244.4" y1="319.34000000000003" x2="246.8" y2="319.34000000000003" stroke="#3a3a3a" stroke-width="0.9"/>
<text x="241.3" y="322.34000000000003" font-size="8.3" text-anchor="end" textLength="10.98" lengthAdjust="spacingAndGlyphs" fill="#1c1c1c" stroke="#1c1c1c" stroke-width="0.18">-20</text>
<line x1="244.4" y1="342.88" x2="246.8" y2="342.88" stroke="#3a3a3a" stroke-width="0.9"/>
<text x="241.3" y="345.88" font-size="8.3" text-anchor="end" textLength="10.98" lengthAdjust="spacingAndGlyphs" fill="#1c1c1c" stroke="#1c1c1c" stroke-width="0.18">-40</text>
<line x1="244.4" y1="366.42" x2="246.8" y2="366.42" stroke="#3a3a3a" stroke-width="0.9"/>
<text x="241.3" y="369.42" font-size="8.3" text-anchor="end" textLength="10.98" lengthAdjust="spacingAndGlyphs" fill="#1c1c1c" stroke="#1c1c1c" stroke-width="0.18">-60</text>
<line x1="247.4" y1="378.3" x2="247.4" y2="380.8" stroke="#3a3a3a" stroke-width="0.9"/>
<text x="247.4" y="391.3" font-size="8.3" text-anchor="middle" textLength="4.23" lengthAdjust="spacingAndGlyphs" fill="#1c1c1c" stroke="#1c1c1c" stroke-width="0.18">0</text>
<line x1="278.2" y1="378.3" x2="278.2" y2="380.8" stroke="#3a3a3a" stroke-width="0.9"/>
<text x="278.2" y="391.3" font-size="8.3" text-anchor="middle" textLength="4.23" lengthAdjust="spacingAndGlyphs" fill="#1c1c1c" stroke="#1c1c1c" stroke-width="0.18">1</text>
<line x1="309.0" y1="378.3" x2="309.0" y2="380.8" stroke="#3a3a3a" stroke-width="0.9"/>
<text x="309.0" y="391.3" font-size="8.3" text-anchor="middle" textLength="4.23" lengthAdjust="spacingAndGlyphs" fill="#1c1c1c" stroke="#1c1c1c" stroke-width="0.18">2</text>
<line x1="339.8" y1="378.3" x2="339.8" y2="380.8" stroke="#3a3a3a" stroke-width="0.9"/>
<text x="339.8" y="391.3" font-size="8.3" text-anchor="middle" textLength="4.23" lengthAdjust="spacingAndGlyphs" fill="#1c1c1c" stroke="#1c1c1c" stroke-width="0.18">3</text>
<line x1="370.6" y1="378.3" x2="370.6" y2="380.8" stroke="#3a3a3a" stroke-width="0.9"/>
<text x="370.6" y="391.3" font-size="8.3" text-anchor="middle" textLength="4.23" lengthAdjust="spacingAndGlyphs" fill="#1c1c1c" stroke="#1c1c1c" stroke-width="0.18">4</text>
<text x="292.4" y="404.2" font-size="9.0" textLength="36.1" lengthAdjust="spacingAndGlyphs" fill="#1c1c1c" stroke="#1c1c1c" stroke-width="0.18">Molar ratio</text>
<text transform="translate(224.4,372.8) rotate(-90)" font-size="9" fill="#1c1c1c" stroke="#1c1c1c" stroke-width="0.12" textLength="74" lengthAdjust="spacingAndGlyphs">kcal mol <tspan font-size="5.8" dy="-3.4">-1</tspan><tspan dy="3.4"> of injectant</tspan></text>
<path d="M251.00,371.50 C251.83,371.30 254.33,370.82 256.00,370.30 C257.67,369.78 259.42,369.20 261.00,368.40 C262.58,367.60 264.00,366.83 265.50,365.50 C267.00,364.17 268.58,362.58 270.00,360.40 C271.42,358.22 272.67,355.03 274.00,352.40 C275.33,349.77 276.67,346.90 278.00,344.60 C279.33,342.30 280.50,340.53 282.00,338.60 C283.50,336.67 285.33,334.68 287.00,333.00 C288.67,331.32 290.17,329.97 292.00,328.50 C293.83,327.03 295.83,325.70 298.00,324.20 C300.17,322.70 302.67,321.03 305.00,319.50 C307.33,317.97 309.50,316.48 312.00,315.00 C314.50,313.52 317.33,311.97 320.00,310.60 C322.67,309.23 325.33,307.93 328.00,306.80 C330.67,305.67 333.33,304.67 336.00,303.80 C338.67,302.93 341.33,302.20 344.00,301.60 C346.67,301.00 350.13,300.52 352.00,300.20 C353.87,299.88 354.67,299.78 355.20,299.70" stroke="#8080cc" stroke-width="1.2" fill="none" stroke-linejoin="round" stroke-linecap="round"/>
<circle cx="251.3" cy="372.6" r="1.45" fill="#8080cc"/>
<circle cx="256" cy="373" r="1.45" fill="#8080cc"/>
<circle cx="261" cy="369.2" r="1.45" fill="#8080cc"/>
<circle cx="265.8" cy="367.5" r="1.45" fill="#8080cc"/>
<circle cx="270" cy="362" r="1.45" fill="#8080cc"/>
<circle cx="275" cy="353" r="1.45" fill="#8080cc"/>
<circle cx="279.5" cy="342.5" r="1.45" fill="#8080cc"/>
<circle cx="284.5" cy="335.5" r="1.45" fill="#8080cc"/>
<circle cx="289.5" cy="331" r="1.45" fill="#8080cc"/>
<circle cx="294" cy="327.5" r="1.45" fill="#8080cc"/>
<circle cx="299" cy="324.5" r="1.45" fill="#8080cc"/>
<circle cx="304" cy="321" r="1.45" fill="#8080cc"/>
<circle cx="309.5" cy="317.5" r="1.45" fill="#8080cc"/>
<circle cx="314.5" cy="313.2" r="1.45" fill="#8080cc"/>
<circle cx="320" cy="310.6" r="1.45" fill="#8080cc"/>
<circle cx="325.5" cy="308" r="1.45" fill="#8080cc"/>
<circle cx="331" cy="305.8" r="1.45" fill="#8080cc"/>
<circle cx="336" cy="304" r="1.45" fill="#8080cc"/>
<circle cx="341.5" cy="302" r="1.45" fill="#8080cc"/>
<circle cx="346.5" cy="300.8" r="1.45" fill="#8080cc"/>
<circle cx="351.5" cy="300" r="1.45" fill="#8080cc"/>
<circle cx="355" cy="299.6" r="1.45" fill="#8080cc"/>
<path d="M251.00,372.20 C251.83,372.10 254.33,371.87 256.00,371.60 C257.67,371.33 259.42,371.27 261.00,370.60 C262.58,369.93 264.08,368.95 265.50,367.60 C266.92,366.25 268.25,364.35 269.50,362.50 C270.75,360.65 271.83,358.55 273.00,356.50 C274.17,354.45 275.33,352.32 276.50,350.20 C277.67,348.08 278.75,346.07 280.00,343.80 C281.25,341.53 282.67,338.73 284.00,336.60 C285.33,334.47 286.50,332.82 288.00,331.00 C289.50,329.18 291.17,327.33 293.00,325.70 C294.83,324.07 296.83,322.72 299.00,321.20 C301.17,319.68 303.67,318.10 306.00,316.60 C308.33,315.10 310.67,313.57 313.00,312.20 C315.33,310.83 317.50,309.57 320.00,308.40 C322.50,307.23 325.33,306.15 328.00,305.20 C330.67,304.25 333.33,303.42 336.00,302.70 C338.67,301.98 341.28,301.32 344.00,300.90 C346.72,300.48 350.92,300.32 352.30,300.20" stroke="#ad1033" stroke-width="1.6" fill="none" stroke-linejoin="round" stroke-linecap="round"/>
<rect x="250.0" y="370.3" width="3.0" height="3.0" fill="#ad1033"/>
<rect x="254.7" y="370.3" width="3.0" height="3.0" fill="#ad1033"/>
<rect x="259.5" y="369.5" width="3.0" height="3.0" fill="#ad1033"/>
<rect x="264.3" y="367.3" width="3.0" height="3.0" fill="#ad1033"/>
<rect x="269.0" y="361.8" width="3.0" height="3.0" fill="#ad1033"/>
<rect x="274.0" y="352.7" width="3.0" height="3.0" fill="#ad1033"/>
<rect x="278.7" y="341.7" width="3.0" height="3.0" fill="#ad1033"/>
<rect x="283.7" y="332.5" width="3.0" height="3.0" fill="#ad1033"/>
<rect x="288.7" y="326.8" width="3.0" height="3.0" fill="#ad1033"/>
<rect x="293.5" y="322.1" width="3.0" height="3.0" fill="#ad1033"/>
<rect x="298.5" y="318.5" width="3.0" height="3.0" fill="#ad1033"/>
<rect x="303.5" y="315.1" width="3.0" height="3.0" fill="#ad1033"/>
<rect x="308.9" y="311.5" width="3.0" height="3.0" fill="#ad1033"/>
<rect x="314.1" y="308.1" width="3.0" height="3.0" fill="#ad1033"/>
<rect x="319.5" y="305.9" width="3.0" height="3.0" fill="#ad1033"/>
<rect x="324.9" y="303.9" width="3.0" height="3.0" fill="#ad1033"/>
<rect x="330.1" y="302.7" width="3.0" height="3.0" fill="#ad1033"/>
<rect x="335.1" y="301.5" width="3.0" height="3.0" fill="#ad1033"/>
<rect x="340.1" y="299.5" width="3.0" height="3.0" fill="#ad1033"/>
<rect x="345.5" y="299.1" width="3.0" height="3.0" fill="#ad1033"/>
<rect x="350.5" y="299.1" width="3.0" height="3.0" fill="#ad1033"/>
<circle cx="309.5" cy="353.8" r="1.3" fill="#8080cc"/>
<text x="314.2" y="355.9" font-size="7.4" textLength="55.8" lengthAdjust="spacingAndGlyphs" fill="#1c1c1c" stroke="#1c1c1c" stroke-width="0.18">gC1qR, D5, Zn<tspan font-size="5" dy="-3">2+</tspan></text>
<rect x="308.2" y="364.3" width="2.6" height="2.6" fill="#ad1033"/>
<text x="314.2" y="367.7" font-size="7.4" textLength="59.8" lengthAdjust="spacingAndGlyphs" fill="#1c1c1c" stroke="#1c1c1c" stroke-width="0.18">gC1qR, D5, EDTA</text>
<line x1="49.8" y1="450.0" x2="49.8" y2="545.4" stroke="#3a3a3a" stroke-width="1.3"/>
<line x1="49.2" y1="545.4" x2="206.2" y2="545.4" stroke="#3a3a3a" stroke-width="1.3"/>
<line x1="47.0" y1="545.4" x2="49.8" y2="545.4" stroke="#3a3a3a" stroke-width="0.9"/>
<text x="44.0" y="548.4" font-size="8.3" text-anchor="end" textLength="4.23" lengthAdjust="spacingAndGlyphs" fill="#1c1c1c" stroke="#1c1c1c" stroke-width="0.18">0</text>
<line x1="47.0" y1="514.4" x2="49.8" y2="514.4" stroke="#3a3a3a" stroke-width="0.9"/>
<text x="44.0" y="517.4" font-size="8.3" text-anchor="end" textLength="8.45" lengthAdjust="spacingAndGlyphs" fill="#1c1c1c" stroke="#1c1c1c" stroke-width="0.18">50</text>
<line x1="47.0" y1="483.4" x2="49.8" y2="483.4" stroke="#3a3a3a" stroke-width="0.9"/>
<text x="44.0" y="486.4" font-size="8.3" text-anchor="end" textLength="12.68" lengthAdjust="spacingAndGlyphs" fill="#1c1c1c" stroke="#1c1c1c" stroke-width="0.18">100</text>
<line x1="47.0" y1="452.4" x2="49.8" y2="452.4" stroke="#3a3a3a" stroke-width="0.9"/>
<text x="44.0" y="455.4" font-size="8.3" text-anchor="end" textLength="12.68" lengthAdjust="spacingAndGlyphs" fill="#1c1c1c" stroke="#1c1c1c" stroke-width="0.18">150</text>
<line x1="50.0" y1="545.4" x2="50.0" y2="548.0" stroke="#3a3a3a" stroke-width="0.9"/>
<text x="50.0" y="558.3" font-size="8.3" text-anchor="middle" textLength="4.23" lengthAdjust="spacingAndGlyphs" fill="#1c1c1c" stroke="#1c1c1c" stroke-width="0.18">7</text>
<line x1="65.5" y1="545.4" x2="65.5" y2="548.0" stroke="#3a3a3a" stroke-width="0.9"/>
<text x="65.5" y="558.3" font-size="8.3" text-anchor="middle" textLength="4.23" lengthAdjust="spacingAndGlyphs" fill="#1c1c1c" stroke="#1c1c1c" stroke-width="0.18">8</text>
<line x1="81.0" y1="545.4" x2="81.0" y2="548.0" stroke="#3a3a3a" stroke-width="0.9"/>
<text x="81.0" y="558.3" font-size="8.3" text-anchor="middle" textLength="4.23" lengthAdjust="spacingAndGlyphs" fill="#1c1c1c" stroke="#1c1c1c" stroke-width="0.18">9</text>
<line x1="96.5" y1="545.4" x2="96.5" y2="548.0" stroke="#3a3a3a" stroke-width="0.9"/>
<text x="96.5" y="558.3" font-size="8.3" text-anchor="middle" textLength="8.45" lengthAdjust="spacingAndGlyphs" fill="#1c1c1c" stroke="#1c1c1c" stroke-width="0.18">10</text>
<line x1="112.0" y1="545.4" x2="112.0" y2="548.0" stroke="#3a3a3a" stroke-width="0.9"/>
<text x="112.0" y="558.3" font-size="8.3" text-anchor="middle" textLength="7.89" lengthAdjust="spacingAndGlyphs" fill="#1c1c1c" stroke="#1c1c1c" stroke-width="0.18">11</text>
<line x1="127.5" y1="545.4" x2="127.5" y2="548.0" stroke="#3a3a3a" stroke-width="0.9"/>
<text x="127.5" y="558.3" font-size="8.3" text-anchor="middle" textLength="8.45" lengthAdjust="spacingAndGlyphs" fill="#1c1c1c" stroke="#1c1c1c" stroke-width="0.18">12</text>
<line x1="143.0" y1="545.4" x2="143.0" y2="548.0" stroke="#3a3a3a" stroke-width="0.9"/>
<text x="143.0" y="558.3" font-size="8.3" text-anchor="middle" textLength="8.45" lengthAdjust="spacingAndGlyphs" fill="#1c1c1c" stroke="#1c1c1c" stroke-width="0.18">13</text>
<line x1="158.5" y1="545.4" x2="158.5" y2="548.0" stroke="#3a3a3a" stroke-width="0.9"/>
<text x="158.5" y="558.3" font-size="8.3" text-anchor="middle" textLength="8.45" lengthAdjust="spacingAndGlyphs" fill="#1c1c1c" stroke="#1c1c1c" stroke-width="0.18">14</text>
<line x1="174.0" y1="545.4" x2="174.0" y2="548.0" stroke="#3a3a3a" stroke-width="0.9"/>
<text x="174.0" y="558.3" font-size="8.3" text-anchor="middle" textLength="8.45" lengthAdjust="spacingAndGlyphs" fill="#1c1c1c" stroke="#1c1c1c" stroke-width="0.18">15</text>
<line x1="189.5" y1="545.4" x2="189.5" y2="548.0" stroke="#3a3a3a" stroke-width="0.9"/>
<text x="189.5" y="558.3" font-size="8.3" text-anchor="middle" textLength="8.45" lengthAdjust="spacingAndGlyphs" fill="#1c1c1c" stroke="#1c1c1c" stroke-width="0.18">16</text>
<line x1="205.0" y1="545.4" x2="205.0" y2="548.0" stroke="#3a3a3a" stroke-width="0.9"/>
<text x="205.0" y="558.3" font-size="8.3" text-anchor="middle" textLength="8.45" lengthAdjust="spacingAndGlyphs" fill="#1c1c1c" stroke="#1c1c1c" stroke-width="0.18">17</text>
<text x="96.0" y="571.0" font-size="9.0" textLength="66.0" lengthAdjust="spacingAndGlyphs" fill="#1c1c1c" stroke="#1c1c1c" stroke-width="0.18">Elution volume (ml)</text>
<g transform="translate(23.0,522.7) rotate(-90)" fill="#1c1c1c" stroke="#1c1c1c" stroke-width="0.12">
<text x="0" y="0" font-size="10" textLength="4.5" lengthAdjust="spacingAndGlyphs">A</text>
<text x="4.6" y="1.8" font-size="7" textLength="10.3" lengthAdjust="spacingAndGlyphs">280</text>
<text x="16.8" y="0" font-size="9" textLength="10.9" lengthAdjust="spacingAndGlyphs">nm</text>
<text x="29.7" y="0" font-size="9" textLength="20.3" lengthAdjust="spacingAndGlyphs">(mAu)</text>
</g>
<path d="M163.00,545.40 C163.17,545.40 163.50,545.53 164.00,545.40 C164.50,545.27 165.20,545.25 166.00,544.60 C166.80,543.95 167.88,542.28 168.80,541.50 C169.72,540.72 170.63,540.25 171.50,539.90 C172.37,539.55 173.17,539.43 174.00,539.40 C174.83,539.37 175.63,539.50 176.50,539.70 C177.37,539.90 178.28,540.23 179.20,540.60 C180.12,540.97 181.12,541.50 182.00,541.90 C182.88,542.30 183.67,542.67 184.50,543.00 C185.33,543.33 186.08,543.63 187.00,543.90 C187.92,544.17 188.67,544.38 190.00,544.60 C191.33,544.82 192.30,545.07 195.00,545.20 C197.70,545.33 204.33,545.37 206.20,545.40" stroke="#e69a2a" stroke-width="1.3" fill="none" stroke-linejoin="round" stroke-linecap="round"/>
<line x1="67" y1="545.4" x2="150" y2="545.4" stroke="#e69a2a" stroke-width="1.3"/>
<path d="M140.00,545.30 C141.33,545.30 146.08,545.42 148.00,545.30 C149.92,545.18 150.50,544.95 151.50,544.60 C152.50,544.25 153.08,543.57 154.00,543.20 C154.92,542.83 155.97,542.58 157.00,542.40 C158.03,542.22 159.03,542.13 160.20,542.10 C161.37,542.07 162.87,542.12 164.00,542.20 C165.13,542.28 166.00,542.42 167.00,542.60 C168.00,542.78 169.00,543.03 170.00,543.30 C171.00,543.57 171.83,543.92 173.00,544.20 C174.17,544.48 175.00,544.82 177.00,545.00 C179.00,545.18 180.13,545.23 185.00,545.30 C189.87,545.37 202.67,545.38 206.20,545.40" stroke="#3b5998" stroke-width="1.3" fill="none" stroke-linejoin="round" stroke-linecap="round"/>
<path d="M50.00,545.20 C52.67,545.18 62.67,545.17 66.00,545.10 C69.33,545.03 68.17,544.97 70.00,544.80 C71.83,544.63 75.33,544.33 77.00,544.10 C78.67,543.87 79.17,543.65 80.00,543.40 C80.83,543.15 81.45,543.17 82.00,542.60 C82.55,542.03 82.90,541.93 83.30,540.00 C83.70,538.07 84.02,534.17 84.40,531.00 C84.78,527.83 85.20,524.33 85.60,521.00 C86.00,517.67 86.43,514.33 86.80,511.00 C87.17,507.67 87.47,504.50 87.80,501.00 C88.13,497.50 88.50,493.67 88.80,490.00 C89.10,486.33 89.35,482.25 89.60,479.00 C89.85,475.75 90.05,472.63 90.30,470.50 C90.55,468.37 90.87,467.03 91.10,466.20 C91.33,465.37 91.45,465.45 91.70,465.50 C91.95,465.55 92.30,465.83 92.60,466.50 C92.90,467.17 93.23,468.08 93.50,469.50 C93.77,470.92 93.95,472.42 94.20,475.00 C94.45,477.58 94.70,481.67 95.00,485.00 C95.30,488.33 95.67,491.83 96.00,495.00 C96.33,498.17 96.72,501.50 97.00,504.00 C97.28,506.50 97.45,507.33 97.70,510.00 C97.95,512.67 98.20,516.67 98.50,520.00 C98.80,523.33 99.00,527.00 99.50,530.00 C100.00,533.00 100.75,536.00 101.50,538.00 C102.25,540.00 102.92,541.00 104.00,542.00 C105.08,543.00 106.50,543.53 108.00,544.00 C109.50,544.47 109.33,544.63 113.00,544.80 C116.67,544.97 124.50,544.97 130.00,545.00 C135.50,545.03 142.83,545.07 146.00,545.00 C149.17,544.93 148.08,545.07 149.00,544.60 C149.92,544.13 150.60,543.40 151.50,542.20 C152.40,541.00 153.43,538.88 154.40,537.40 C155.37,535.92 156.33,534.23 157.30,533.30 C158.27,532.37 159.23,531.80 160.20,531.80 C161.17,531.80 162.13,532.38 163.10,533.30 C164.07,534.22 165.08,535.97 166.00,537.30 C166.92,538.63 167.73,540.23 168.60,541.30 C169.47,542.37 170.13,543.12 171.20,543.70 C172.27,544.28 172.70,544.58 175.00,544.80 C177.30,545.02 179.80,544.97 185.00,545.00 C190.20,545.03 202.67,545.00 206.20,545.00" stroke="#ad1033" stroke-width="1.4" fill="none" stroke-linejoin="round" stroke-linecap="round"/>
<path d="M50.00,545.00 C52.00,545.00 59.50,545.00 62.00,545.00 C64.50,545.00 64.00,545.07 65.00,545.00 C66.00,544.93 66.83,545.10 68.00,544.60 C69.17,544.10 70.50,543.10 72.00,542.00 C73.50,540.90 75.50,539.25 77.00,538.00 C78.50,536.75 79.92,535.67 81.00,534.50 C82.08,533.33 82.83,532.17 83.50,531.00 C84.17,529.83 84.50,529.33 85.00,527.50 C85.50,525.67 86.08,522.92 86.50,520.00 C86.92,517.08 87.17,513.33 87.50,510.00 C87.83,506.67 88.17,503.33 88.50,500.00 C88.83,496.67 89.17,493.17 89.50,490.00 C89.83,486.83 90.13,483.17 90.50,481.00 C90.87,478.83 91.35,477.77 91.70,477.00 C92.05,476.23 92.28,476.27 92.60,476.40 C92.92,476.53 93.27,476.70 93.60,477.80 C93.93,478.90 94.27,480.97 94.60,483.00 C94.93,485.03 95.27,487.50 95.60,490.00 C95.93,492.50 96.28,495.17 96.60,498.00 C96.92,500.83 97.18,504.00 97.50,507.00 C97.82,510.00 98.20,513.50 98.50,516.00 C98.80,518.50 98.97,519.67 99.30,522.00 C99.63,524.33 100.05,527.67 100.50,530.00 C100.95,532.33 101.42,534.28 102.00,536.00 C102.58,537.72 103.17,539.13 104.00,540.30 C104.83,541.47 105.67,542.33 107.00,543.00 C108.33,543.67 109.83,544.02 112.00,544.30 C114.17,544.58 114.50,544.65 120.00,544.70 C125.50,544.75 140.00,544.67 145.00,544.60 C150.00,544.53 148.50,544.48 150.00,544.30 C151.50,544.12 152.67,543.72 154.00,543.50 C155.33,543.28 156.67,543.12 158.00,543.00 C159.33,542.88 160.67,542.77 162.00,542.80 C163.33,542.83 164.67,543.02 166.00,543.20 C167.33,543.38 168.50,543.68 170.00,543.90 C171.50,544.12 172.50,544.37 175.00,544.50 C177.50,544.63 179.80,544.67 185.00,544.70 C190.20,544.73 202.67,544.70 206.20,544.70" stroke="#8080cc" stroke-width="1.2" fill="none" stroke-linejoin="round" stroke-linecap="round"/>
<line x1="121.9" y1="462.4" x2="132.3" y2="462.4" stroke="#8080cc" stroke-width="1.3"/>
<text x="135.8" y="464.59999999999997" font-size="7.4" textLength="80.5" lengthAdjust="spacingAndGlyphs" fill="#1c1c1c" stroke="#1c1c1c" stroke-width="0.18">gC1qR, D5-1, D5-2, Zn<tspan font-size="5" dy="-3">2+</tspan></text>
<line x1="121.9" y1="473.5" x2="132.3" y2="473.5" stroke="#ad1033" stroke-width="1.3"/>
<text x="135.8" y="475.7" font-size="7.4" textLength="84.3" lengthAdjust="spacingAndGlyphs" fill="#1c1c1c" stroke="#1c1c1c" stroke-width="0.18">gC1qR, D5-1, D5-2,EDTA</text>
<line x1="121.9" y1="484.4" x2="132.3" y2="484.4" stroke="#3b5998" stroke-width="1.3"/>
<text x="135.8" y="486.59999999999997" font-size="7.4" textLength="15.8" lengthAdjust="spacingAndGlyphs" fill="#1c1c1c" stroke="#1c1c1c" stroke-width="0.18">D5-1</text>
<line x1="121.9" y1="495.5" x2="132.3" y2="495.5" stroke="#e69a2a" stroke-width="1.3"/>
<text x="135.8" y="497.7" font-size="7.4" textLength="15.8" lengthAdjust="spacingAndGlyphs" fill="#1c1c1c" stroke="#1c1c1c" stroke-width="0.18">D5-2</text>
<linearGradient id="g267447" x1="0" y1="0" x2="1" y2="0"><stop offset="0" stop-color="#e6e6e6"/><stop offset="1" stop-color="#eeeeee"/></linearGradient>
<rect x="267.5" y="447.0" width="96.0" height="47.2" fill="url(#g267447)"/>
<rect x="270.5" y="458.30" width="3.50" height="1.0" rx="0.5" fill="#c4c4c4" filter="url(#bl)"/>
<rect x="270.5" y="484.50" width="3.50" height="1.0" rx="0.5" fill="#c4c4c4" filter="url(#bl)"/>
<rect x="297.5" y="454.40" width="7.50" height="1.6" rx="0.8" fill="#6e6e6e" filter="url(#bl)"/>
<rect x="306.0" y="453.10" width="8.40" height="2.8" rx="1.2" fill="#262626" filter="url(#bl)"/>
<rect x="316.4" y="453.80" width="6.60" height="1.4" rx="0.7" fill="#999" filter="url(#bl)"/>
<rect x="344.5" y="480.60" width="6.80" height="2.4" rx="1.2" fill="#141414" filter="url(#bl)"/>
<rect x="353.0" y="480.45" width="8.40" height="2.1" rx="1.05" fill="#2a2a2a" filter="url(#bl)"/>
<rect x="305.0" y="490.10" width="8.00" height="1.8" rx="0.9" fill="#8a8a8a" filter="url(#bl)"/>
<rect x="316.0" y="490.20" width="6.00" height="1.0" rx="0.5" fill="#d0d0d0" filter="url(#bl)"/>
<text x="302.5" y="430.5" font-size="7.6" textLength="24.5" lengthAdjust="spacingAndGlyphs" fill="#141414" stroke="#141414" stroke-width="0.07">+EDTA</text>
<text x="245.5" y="441.8" font-size="7.4" textLength="14.0" lengthAdjust="spacingAndGlyphs" fill="#141414" stroke="#141414" stroke-width="0.07">kDa</text>
<text x="282.5" y="441.8" font-size="7.4" fill="#141414" stroke="#141414" stroke-width="0.07">6</text>
<text x="291.3" y="441.8" font-size="7.4" fill="#141414" stroke="#141414" stroke-width="0.07">7</text>
<text x="302.0" y="441.8" font-size="7.4" fill="#141414" stroke="#141414" stroke-width="0.07">8</text>
<text x="309.5" y="441.8" font-size="7.4" fill="#141414" stroke="#141414" stroke-width="0.07">9</text>
<text x="315.0" y="441.8" font-size="7.4" textLength="7.4" lengthAdjust="spacingAndGlyphs" fill="#141414" stroke="#141414" stroke-width="0.07">10</text>
<text x="325.5" y="441.8" font-size="7.4" textLength="7.4" lengthAdjust="spacingAndGlyphs" fill="#141414" stroke="#141414" stroke-width="0.07">11</text>
<text x="335.5" y="441.8" font-size="7.4" textLength="7.4" lengthAdjust="spacingAndGlyphs" fill="#141414" stroke="#141414" stroke-width="0.07">12</text>
<text x="345.0" y="441.8" font-size="7.4" textLength="7.4" lengthAdjust="spacingAndGlyphs" fill="#141414" stroke="#141414" stroke-width="0.07">13</text>
<text x="354.5" y="441.8" font-size="7.4" textLength="7.4" lengthAdjust="spacingAndGlyphs" fill="#141414" stroke="#141414" stroke-width="0.07">14</text>
<text x="245.5" y="455.1" font-size="7.4" textLength="8.3" lengthAdjust="spacingAndGlyphs" fill="#141414" stroke="#141414" stroke-width="0.07">40</text>
<line x1="257.5" y1="452.5" x2="267.5" y2="452.5" stroke="#1a1a1a" stroke-width="1.15"/>
<text x="245.5" y="462.6" font-size="7.4" textLength="8.3" lengthAdjust="spacingAndGlyphs" fill="#141414" stroke="#141414" stroke-width="0.07">30</text>
<line x1="257.5" y1="460.5" x2="267.5" y2="460.5" stroke="#1a1a1a" stroke-width="1.15"/>
<text x="245.5" y="473.1" font-size="7.4" textLength="8.3" lengthAdjust="spacingAndGlyphs" fill="#141414" stroke="#141414" stroke-width="0.07">20</text>
<line x1="257.5" y1="470.5" x2="267.5" y2="470.5" stroke="#1a1a1a" stroke-width="1.15"/>
<text x="245.5" y="487.6" font-size="7.4" textLength="8.3" lengthAdjust="spacingAndGlyphs" fill="#141414" stroke="#141414" stroke-width="0.07">10</text>
<line x1="257.5" y1="485.5" x2="267.5" y2="485.5" stroke="#1a1a1a" stroke-width="1.15"/>
<line x1="364.4" y1="451.5" x2="374.8" y2="451.5" stroke="#1a1a1a" stroke-width="1.15"/>
<text x="381.3" y="455.0" font-size="7.6" textLength="22.7" lengthAdjust="spacingAndGlyphs" fill="#141414" stroke="#141414" stroke-width="0.07">gC1qR</text>
<line x1="367.5" y1="480.5" x2="377.8" y2="480.5" stroke="#1a1a1a" stroke-width="1.15"/>
<text x="381.3" y="482.8" font-size="7.6" textLength="15.6" lengthAdjust="spacingAndGlyphs" fill="#141414" stroke="#141414" stroke-width="0.07">D5-1</text>
<line x1="367.5" y1="492.5" x2="377.8" y2="492.5" stroke="#1a1a1a" stroke-width="1.15"/>
<text x="381.3" y="495.0" font-size="7.6" textLength="15.6" lengthAdjust="spacingAndGlyphs" fill="#141414" stroke="#141414" stroke-width="0.07">D5-2</text>
<linearGradient id="g269524" x1="0" y1="0" x2="1" y2="0"><stop offset="0" stop-color="#d6d6d6"/><stop offset="1" stop-color="#e0e0e0"/></linearGradient>
<rect x="269.5" y="524.4" width="90.5" height="46.1" fill="url(#g269524)"/>
<rect x="295.0" y="533.35" width="7.00" height="1.7" rx="0.85" fill="#5a5a5a" filter="url(#bl)"/>
<rect x="303.3" y="532.80" width="8.00" height="2.8" rx="1.2" fill="#1c1c1c" filter="url(#bl)"/>
<rect x="312.5" y="533.35" width="7.00" height="1.9" rx="0.95" fill="#3c3c3c" filter="url(#bl)"/>
<rect x="321.3" y="533.90" width="6.70" height="1.2" rx="0.6" fill="#a8a8a8" filter="url(#bl)"/>
<rect x="295.0" y="562.05" width="7.00" height="1.5" rx="0.75" fill="#8e8e8e" filter="url(#bl)"/>
<rect x="303.0" y="561.20" width="8.00" height="2.8" rx="1.2" fill="#1c1c1c" filter="url(#bl)"/>
<rect x="312.0" y="561.65" width="8.00" height="1.9" rx="0.95" fill="#4e4e4e" filter="url(#bl)"/>
<rect x="295.5" y="568.75" width="6.50" height="1.3" rx="0.65" fill="#9a9a9a" filter="url(#bl)"/>
<rect x="304.5" y="567.90" width="7.50" height="2.2" rx="1.1" fill="#363636" filter="url(#bl)"/>
<rect x="313.0" y="568.75" width="6.50" height="1.3" rx="0.65" fill="#9a9a9a" filter="url(#bl)"/>
<line x1="341.3" y1="543.5" x2="341.3" y2="554.5" stroke="#f2f2f2" stroke-width="0.9"/>
<circle cx="341.3" cy="542.8" r="0.7" fill="#888"/>
<text x="305.5" y="507.5" font-size="7.6" textLength="19.5" lengthAdjust="spacingAndGlyphs" fill="#141414" stroke="#141414" stroke-width="0.07">+Zn<tspan font-size="5.2" dy="-3">2+</tspan></text>
<text x="245.5" y="519.3" font-size="7.4" textLength="13.3" lengthAdjust="spacingAndGlyphs" fill="#141414" stroke="#141414" stroke-width="0.07">kDa</text>
<text x="280.0" y="519.3" font-size="7.4" fill="#141414" stroke="#141414" stroke-width="0.07">6</text>
<text x="288.8" y="519.3" font-size="7.4" fill="#141414" stroke="#141414" stroke-width="0.07">7</text>
<text x="299.5" y="519.3" font-size="7.4" fill="#141414" stroke="#141414" stroke-width="0.07">8</text>
<text x="306.3" y="519.3" font-size="7.4" fill="#141414" stroke="#141414" stroke-width="0.07">9</text>
<text x="312.5" y="519.3" font-size="7.4" textLength="7.5" lengthAdjust="spacingAndGlyphs" fill="#141414" stroke="#141414" stroke-width="0.07">10</text>
<text x="322.5" y="519.3" font-size="7.4" textLength="7.5" lengthAdjust="spacingAndGlyphs" fill="#141414" stroke="#141414" stroke-width="0.07">11</text>
<text x="332.5" y="519.3" font-size="7.4" textLength="7.5" lengthAdjust="spacingAndGlyphs" fill="#141414" stroke="#141414" stroke-width="0.07">12</text>
<text x="342.0" y="519.3" font-size="7.4" textLength="7.5" lengthAdjust="spacingAndGlyphs" fill="#141414" stroke="#141414" stroke-width="0.07">13</text>
<text x="352.0" y="519.3" font-size="7.4" textLength="7.5" lengthAdjust="spacingAndGlyphs" fill="#141414" stroke="#141414" stroke-width="0.07">14</text>
<text x="245.5" y="529.6" font-size="7.4" textLength="8.3" lengthAdjust="spacingAndGlyphs" fill="#141414" stroke="#141414" stroke-width="0.07">40</text>
<line x1="259.5" y1="527.5" x2="268.8" y2="527.5" stroke="#1a1a1a" stroke-width="1.15"/>
<text x="245.5" y="540.1" font-size="7.4" textLength="8.3" lengthAdjust="spacingAndGlyphs" fill="#141414" stroke="#141414" stroke-width="0.07">30</text>
<line x1="259.5" y1="537.5" x2="268.8" y2="537.5" stroke="#1a1a1a" stroke-width="1.15"/>
<text x="245.5" y="553.1" font-size="7.4" textLength="8.3" lengthAdjust="spacingAndGlyphs" fill="#141414" stroke="#141414" stroke-width="0.07">20</text>
<line x1="259.5" y1="550.5" x2="268.8" y2="550.5" stroke="#1a1a1a" stroke-width="1.15"/>
<text x="245.5" y="567.6" font-size="7.4" textLength="8.3" lengthAdjust="spacingAndGlyphs" fill="#141414" stroke="#141414" stroke-width="0.07">10</text>
<line x1="259.5" y1="565.5" x2="268.8" y2="565.5" stroke="#1a1a1a" stroke-width="1.15"/>
<line x1="363.5" y1="532.5" x2="374.4" y2="532.5" stroke="#1a1a1a" stroke-width="1.15"/>
<text x="378.1" y="535.0" font-size="7.6" textLength="23.1" lengthAdjust="spacingAndGlyphs" fill="#141414" stroke="#141414" stroke-width="0.07">gC1qR</text>
<line x1="364.4" y1="561.5" x2="375.0" y2="561.5" stroke="#1a1a1a" stroke-width="1.15"/>
<text x="378.1" y="563.5" font-size="7.6" textLength="15.6" lengthAdjust="spacingAndGlyphs" fill="#141414" stroke="#141414" stroke-width="0.07">D5-1</text>
<line x1="364.4" y1="567.5" x2="375.0" y2="567.5" stroke="#1a1a1a" stroke-width="1.15"/>
<text x="378.1" y="571.3" font-size="7.6" textLength="15.6" lengthAdjust="spacingAndGlyphs" fill="#141414" stroke="#141414" stroke-width="0.07">D5-2</text>
<line x1="50.2" y1="598.8" x2="50.2" y2="670.9" stroke="#3a3a3a" stroke-width="1.3"/>
<line x1="49.6" y1="670.9" x2="158.8" y2="670.9" stroke="#3a3a3a" stroke-width="1.3"/>
<line x1="47.3" y1="601.1" x2="50.2" y2="601.1" stroke="#3a3a3a" stroke-width="0.9"/>
<text x="44.0" y="604.1" font-size="8.3" text-anchor="end" textLength="4.23" lengthAdjust="spacingAndGlyphs" fill="#1c1c1c" stroke="#1c1c1c" stroke-width="0.18">0</text>
<line x1="47.3" y1="615.02" x2="50.2" y2="615.02" stroke="#3a3a3a" stroke-width="0.9"/>
<text x="44.0" y="618.02" font-size="8.3" text-anchor="end" textLength="10.98" lengthAdjust="spacingAndGlyphs" fill="#1c1c1c" stroke="#1c1c1c" stroke-width="0.18">-10</text>
<line x1="47.3" y1="628.94" x2="50.2" y2="628.94" stroke="#3a3a3a" stroke-width="0.9"/>
<text x="44.0" y="631.94" font-size="8.3" text-anchor="end" textLength="10.98" lengthAdjust="spacingAndGlyphs" fill="#1c1c1c" stroke="#1c1c1c" stroke-width="0.18">-20</text>
<line x1="47.3" y1="642.86" x2="50.2" y2="642.86" stroke="#3a3a3a" stroke-width="0.9"/>
<text x="44.0" y="645.86" font-size="8.3" text-anchor="end" textLength="10.98" lengthAdjust="spacingAndGlyphs" fill="#1c1c1c" stroke="#1c1c1c" stroke-width="0.18">-30</text>
<line x1="47.3" y1="656.78" x2="50.2" y2="656.78" stroke="#3a3a3a" stroke-width="0.9"/>
<text x="44.0" y="659.78" font-size="8.3" text-anchor="end" textLength="10.98" lengthAdjust="spacingAndGlyphs" fill="#1c1c1c" stroke="#1c1c1c" stroke-width="0.18">-40</text>
<line x1="47.3" y1="670.7" x2="50.2" y2="670.7" stroke="#3a3a3a" stroke-width="0.9"/>
<text x="44.0" y="673.7" font-size="8.3" text-anchor="end" textLength="10.98" lengthAdjust="spacingAndGlyphs" fill="#1c1c1c" stroke="#1c1c1c" stroke-width="0.18">-50</text>
<line x1="50.2" y1="670.9" x2="50.2" y2="673.4" stroke="#3a3a3a" stroke-width="0.9"/>
<text x="50.2" y="683.5" font-size="8.3" text-anchor="middle" textLength="4.23" lengthAdjust="spacingAndGlyphs" fill="#1c1c1c" stroke="#1c1c1c" stroke-width="0.18">0</text>
<line x1="71.4" y1="670.9" x2="71.4" y2="673.4" stroke="#3a3a3a" stroke-width="0.9"/>
<text x="71.4" y="683.5" font-size="8.3" text-anchor="middle" textLength="4.23" lengthAdjust="spacingAndGlyphs" fill="#1c1c1c" stroke="#1c1c1c" stroke-width="0.18">1</text>
<line x1="92.6" y1="670.9" x2="92.6" y2="673.4" stroke="#3a3a3a" stroke-width="0.9"/>
<text x="92.6" y="683.5" font-size="8.3" text-anchor="middle" textLength="4.23" lengthAdjust="spacingAndGlyphs" fill="#1c1c1c" stroke="#1c1c1c" stroke-width="0.18">2</text>
<line x1="113.8" y1="670.9" x2="113.8" y2="673.4" stroke="#3a3a3a" stroke-width="0.9"/>
<text x="113.8" y="683.5" font-size="8.3" text-anchor="middle" textLength="4.23" lengthAdjust="spacingAndGlyphs" fill="#1c1c1c" stroke="#1c1c1c" stroke-width="0.18">3</text>
<line x1="135.0" y1="670.9" x2="135.0" y2="673.4" stroke="#3a3a3a" stroke-width="0.9"/>
<text x="135.0" y="683.5" font-size="8.3" text-anchor="middle" textLength="4.23" lengthAdjust="spacingAndGlyphs" fill="#1c1c1c" stroke="#1c1c1c" stroke-width="0.18">4</text>
<line x1="156.2" y1="670.9" x2="156.2" y2="673.4" stroke="#3a3a3a" stroke-width="0.9"/>
<text x="156.2" y="683.5" font-size="8.3" text-anchor="middle" textLength="4.23" lengthAdjust="spacingAndGlyphs" fill="#1c1c1c" stroke="#1c1c1c" stroke-width="0.18">5</text>
<text x="86.9" y="696.2" font-size="9.0" textLength="35.8" lengthAdjust="spacingAndGlyphs" fill="#1c1c1c" stroke="#1c1c1c" stroke-width="0.18">Molar ratio</text>
<text transform="translate(27.6,671.6) rotate(-90)" font-size="9" fill="#1c1c1c" stroke="#1c1c1c" stroke-width="0.12" textLength="74.5" lengthAdjust="spacingAndGlyphs">kcal mol <tspan font-size="5.8" dy="-3.4">-1</tspan><tspan dy="3.4"> of injectant</tspan></text>
<path d="M53.00,666.20 C53.62,666.13 55.50,666.28 56.70,665.80 C57.90,665.32 59.08,664.37 60.20,663.30 C61.32,662.23 62.28,660.78 63.40,659.40 C64.52,658.02 65.75,656.63 66.90,655.00 C68.05,653.37 69.20,651.60 70.30,649.60 C71.40,647.60 72.35,645.37 73.50,643.00 C74.65,640.63 76.05,637.62 77.20,635.40 C78.35,633.18 79.23,631.30 80.40,629.70 C81.57,628.10 83.00,626.85 84.20,625.80 C85.40,624.75 86.42,624.08 87.60,623.40 C88.78,622.72 90.07,622.22 91.30,621.70 C92.53,621.18 93.78,620.78 95.00,620.30 C96.22,619.82 97.38,619.30 98.60,618.80 C99.82,618.30 101.03,617.80 102.30,617.30 C103.57,616.80 104.95,616.32 106.20,615.80 C107.45,615.28 108.58,614.73 109.80,614.20 C111.02,613.67 112.25,613.10 113.50,612.60 C114.75,612.10 116.07,611.65 117.30,611.20 C118.53,610.75 119.65,610.33 120.90,609.90 C122.15,609.47 123.52,609.02 124.80,608.60 C126.08,608.18 127.32,607.77 128.60,607.40 C129.88,607.03 131.22,606.70 132.50,606.40 C133.78,606.10 135.02,605.85 136.30,605.60 C137.58,605.35 138.88,605.12 140.20,604.90 C141.52,604.68 142.88,604.48 144.20,604.30 C145.52,604.12 146.82,603.95 148.10,603.80 C149.38,603.65 150.75,603.52 151.90,603.40 C153.05,603.28 154.48,603.15 155.00,603.10" stroke="#8080cc" stroke-width="1.0" fill="none" stroke-linejoin="round" stroke-linecap="round"/>
<circle cx="53.30" cy="666.00" r="1.5" fill="#8080cc"/>
<circle cx="56.70" cy="666.60" r="1.5" fill="#8080cc"/>
<circle cx="60.20" cy="663.40" r="1.5" fill="#8080cc"/>
<circle cx="63.40" cy="659.30" r="1.5" fill="#8080cc"/>
<circle cx="66.90" cy="655.20" r="1.5" fill="#8080cc"/>
<circle cx="70.30" cy="650.00" r="1.5" fill="#8080cc"/>
<circle cx="73.50" cy="642.70" r="1.5" fill="#8080cc"/>
<circle cx="77.20" cy="635.10" r="1.5" fill="#8080cc"/>
<circle cx="80.40" cy="629.50" r="1.5" fill="#8080cc"/>
<circle cx="84.20" cy="625.80" r="1.5" fill="#8080cc"/>
<circle cx="87.60" cy="623.40" r="1.5" fill="#8080cc"/>
<circle cx="91.30" cy="621.70" r="1.5" fill="#8080cc"/>
<circle cx="95.00" cy="620.40" r="1.5" fill="#8080cc"/>
<circle cx="98.60" cy="618.80" r="1.5" fill="#8080cc"/>
<circle cx="102.30" cy="617.30" r="1.5" fill="#8080cc"/>
<circle cx="106.20" cy="615.80" r="1.5" fill="#8080cc"/>
<circle cx="109.80" cy="614.20" r="1.5" fill="#8080cc"/>
<circle cx="113.50" cy="612.50" r="1.5" fill="#8080cc"/>
<circle cx="117.30" cy="611.20" r="1.5" fill="#8080cc"/>
<circle cx="120.90" cy="610.00" r="1.5" fill="#8080cc"/>
<circle cx="124.80" cy="608.50" r="1.5" fill="#8080cc"/>
<circle cx="128.60" cy="607.50" r="1.5" fill="#8080cc"/>
<circle cx="132.50" cy="606.40" r="1.5" fill="#8080cc"/>
<circle cx="136.30" cy="606.00" r="1.5" fill="#8080cc"/>
<circle cx="140.20" cy="605.20" r="1.5" fill="#8080cc"/>
<circle cx="144.20" cy="604.50" r="1.5" fill="#8080cc"/>
<circle cx="148.10" cy="604.10" r="1.5" fill="#8080cc"/>
<circle cx="151.90" cy="603.30" r="1.5" fill="#8080cc"/>
<rect x="52.15" y="602.45" width="3.1" height="3.1" fill="#ad1033"/>
<rect x="56.05" y="601.25" width="3.1" height="3.1" fill="#ad1033"/>
<rect x="60.25" y="600.75" width="3.1" height="3.1" fill="#ad1033"/>
<rect x="64.25" y="600.45" width="3.1" height="3.1" fill="#ad1033"/>
<rect x="68.15" y="600.75" width="3.1" height="3.1" fill="#ad1033"/>
<rect x="71.95" y="601.55" width="3.1" height="3.1" fill="#ad1033"/>
<rect x="75.75" y="601.95" width="3.1" height="3.1" fill="#ad1033"/>
<rect x="79.65" y="602.25" width="3.1" height="3.1" fill="#ad1033"/>
<rect x="83.85" y="602.25" width="3.1" height="3.1" fill="#ad1033"/>
<rect x="87.65" y="602.25" width="3.1" height="3.1" fill="#ad1033"/>
<rect x="91.55" y="601.95" width="3.1" height="3.1" fill="#ad1033"/>
<rect x="95.95" y="601.55" width="3.1" height="3.1" fill="#ad1033"/>
<rect x="99.75" y="601.15" width="3.1" height="3.1" fill="#ad1033"/>
<rect x="104.05" y="601.15" width="3.1" height="3.1" fill="#ad1033"/>
<rect x="108.85" y="601.15" width="3.1" height="3.1" fill="#ad1033"/>
<rect x="113.25" y="601.95" width="3.1" height="3.1" fill="#ad1033"/>
<rect x="117.45" y="598.65" width="3.1" height="3.1" fill="#ad1033"/>
<rect x="121.35" y="599.65" width="3.1" height="3.1" fill="#ad1033"/>
<rect x="126.15" y="600.55" width="3.1" height="3.1" fill="#ad1033"/>
<rect x="130.35" y="600.95" width="3.1" height="3.1" fill="#ad1033"/>
<rect x="134.75" y="600.95" width="3.1" height="3.1" fill="#ad1033"/>
<rect x="139.25" y="601.15" width="3.1" height="3.1" fill="#ad1033"/>
<rect x="143.85" y="600.95" width="3.1" height="3.1" fill="#ad1033"/>
<rect x="148.25" y="601.15" width="3.1" height="3.1" fill="#ad1033"/>
<rect x="153.05" y="601.15" width="3.1" height="3.1" fill="#ad1033"/>
<circle cx="88.00" cy="645.70" r="1.3" fill="#8080cc"/>
<text x="92.6" y="647.6" font-size="7.4" textLength="62.0" lengthAdjust="spacingAndGlyphs" fill="#1c1c1c" stroke="#1c1c1c" stroke-width="0.18">gC1qR, D5-1, Zn<tspan font-size="5" dy="-3">2+</tspan></text>
<rect x="86.70" y="655.10" width="2.6" height="2.6" fill="#ad1033"/>
<text x="92.6" y="658.5" font-size="7.4" textLength="66.2" lengthAdjust="spacingAndGlyphs" fill="#1c1c1c" stroke="#1c1c1c" stroke-width="0.18">gC1qR, D5-1, EDTA</text>
<line x1="205.6" y1="599.2" x2="205.6" y2="671.0" stroke="#3a3a3a" stroke-width="1.3"/>
<line x1="205.0" y1="671.0" x2="312.0" y2="671.0" stroke="#3a3a3a" stroke-width="1.3"/>
<line x1="202.7" y1="601.7" x2="205.6" y2="601.7" stroke="#3a3a3a" stroke-width="0.9"/>
<text x="200.6" y="604.7" font-size="8.3" text-anchor="end" textLength="4.23" lengthAdjust="spacingAndGlyphs" fill="#1c1c1c" stroke="#1c1c1c" stroke-width="0.18">0</text>
<line x1="202.7" y1="621.4000000000001" x2="205.6" y2="621.4000000000001" stroke="#3a3a3a" stroke-width="0.9"/>
<text x="200.6" y="624.4000000000001" font-size="8.3" text-anchor="end" textLength="10.98" lengthAdjust="spacingAndGlyphs" fill="#1c1c1c" stroke="#1c1c1c" stroke-width="0.18">-10</text>
<line x1="202.7" y1="641.1" x2="205.6" y2="641.1" stroke="#3a3a3a" stroke-width="0.9"/>
<text x="200.6" y="644.1" font-size="8.3" text-anchor="end" textLength="10.98" lengthAdjust="spacingAndGlyphs" fill="#1c1c1c" stroke="#1c1c1c" stroke-width="0.18">-20</text>
<line x1="202.7" y1="660.8000000000001" x2="205.6" y2="660.8000000000001" stroke="#3a3a3a" stroke-width="0.9"/>
<text x="200.6" y="663.8000000000001" font-size="8.3" text-anchor="end" textLength="10.98" lengthAdjust="spacingAndGlyphs" fill="#1c1c1c" stroke="#1c1c1c" stroke-width="0.18">-30</text>
<line x1="205.6" y1="671.0" x2="205.6" y2="673.5" stroke="#3a3a3a" stroke-width="0.9"/>
<text x="205.6" y="683.6" font-size="8.3" text-anchor="middle" textLength="4.23" lengthAdjust="spacingAndGlyphs" fill="#1c1c1c" stroke="#1c1c1c" stroke-width="0.18">0</text>
<line x1="226.4" y1="671.0" x2="226.4" y2="673.5" stroke="#3a3a3a" stroke-width="0.9"/>
<text x="226.4" y="683.6" font-size="8.3" text-anchor="middle" textLength="4.23" lengthAdjust="spacingAndGlyphs" fill="#1c1c1c" stroke="#1c1c1c" stroke-width="0.18">1</text>
<line x1="247.2" y1="671.0" x2="247.2" y2="673.5" stroke="#3a3a3a" stroke-width="0.9"/>
<text x="247.2" y="683.6" font-size="8.3" text-anchor="middle" textLength="4.23" lengthAdjust="spacingAndGlyphs" fill="#1c1c1c" stroke="#1c1c1c" stroke-width="0.18">2</text>
<line x1="268.0" y1="671.0" x2="268.0" y2="673.5" stroke="#3a3a3a" stroke-width="0.9"/>
<text x="268.0" y="683.6" font-size="8.3" text-anchor="middle" textLength="4.23" lengthAdjust="spacingAndGlyphs" fill="#1c1c1c" stroke="#1c1c1c" stroke-width="0.18">3</text>
<line x1="288.8" y1="671.0" x2="288.8" y2="673.5" stroke="#3a3a3a" stroke-width="0.9"/>
<text x="288.8" y="683.6" font-size="8.3" text-anchor="middle" textLength="4.23" lengthAdjust="spacingAndGlyphs" fill="#1c1c1c" stroke="#1c1c1c" stroke-width="0.18">4</text>
<line x1="309.6" y1="671.0" x2="309.6" y2="673.5" stroke="#3a3a3a" stroke-width="0.9"/>
<text x="309.6" y="683.6" font-size="8.3" text-anchor="middle" textLength="4.23" lengthAdjust="spacingAndGlyphs" fill="#1c1c1c" stroke="#1c1c1c" stroke-width="0.18">5</text>
<text x="240.9" y="696.4" font-size="9.0" textLength="36.0" lengthAdjust="spacingAndGlyphs" fill="#1c1c1c" stroke="#1c1c1c" stroke-width="0.18">Molar ratio</text>
<text transform="translate(184.2,672.3) rotate(-90)" font-size="9" fill="#1c1c1c" stroke="#1c1c1c" stroke-width="0.12" textLength="74.5" lengthAdjust="spacingAndGlyphs">kcal mol <tspan font-size="5.8" dy="-3.4">-1</tspan><tspan dy="3.4"> of injectant</tspan></text>
<path d="M208.50,663.74 C209.08,663.63 210.58,663.41 212.00,663.07 C213.42,662.74 215.33,662.35 217.00,661.72 C218.67,661.09 220.33,660.20 222.00,659.28 C223.67,658.37 225.33,657.32 227.00,656.23 C228.67,655.13 230.33,653.95 232.00,652.70 C233.67,651.45 235.33,650.17 237.00,648.75 C238.67,647.33 240.33,645.71 242.00,644.16 C243.67,642.61 245.33,641.10 247.00,639.45 C248.67,637.79 250.33,635.99 252.00,634.23 C253.67,632.47 255.33,630.44 257.00,628.88 C258.67,627.33 260.33,626.27 262.00,624.88 C263.67,623.49 265.33,621.78 267.00,620.55 C268.67,619.31 270.33,618.41 272.00,617.47 C273.67,616.54 275.33,615.63 277.00,614.95 C278.67,614.27 280.33,613.90 282.00,613.40 C283.67,612.89 285.33,612.37 287.00,611.90 C288.67,611.43 290.33,611.00 292.00,610.55 C293.67,610.11 296.03,609.45 297.00,609.23 C297.97,609.00 297.67,609.20 297.80,609.20" stroke="#8080cc" stroke-width="1.0" fill="none" stroke-linejoin="round" stroke-linecap="round"/>
<circle cx="208.70" cy="663.71" r="1.5" fill="#8080cc"/>
<circle cx="212.56" cy="662.97" r="1.5" fill="#8080cc"/>
<circle cx="216.42" cy="661.94" r="1.5" fill="#8080cc"/>
<circle cx="220.28" cy="660.30" r="1.5" fill="#8080cc"/>
<circle cx="224.14" cy="658.01" r="1.5" fill="#8080cc"/>
<circle cx="228.00" cy="655.60" r="1.5" fill="#8080cc"/>
<circle cx="231.86" cy="652.80" r="1.5" fill="#8080cc"/>
<circle cx="235.72" cy="649.79" r="1.5" fill="#8080cc"/>
<circle cx="239.58" cy="646.48" r="1.5" fill="#8080cc"/>
<circle cx="243.44" cy="642.79" r="1.5" fill="#8080cc"/>
<circle cx="247.30" cy="639.16" r="1.5" fill="#8080cc"/>
<circle cx="251.16" cy="635.12" r="1.5" fill="#8080cc"/>
<circle cx="255.02" cy="630.81" r="1.5" fill="#8080cc"/>
<circle cx="258.88" cy="627.34" r="1.5" fill="#8080cc"/>
<circle cx="262.74" cy="624.26" r="1.5" fill="#8080cc"/>
<circle cx="266.60" cy="620.90" r="1.5" fill="#8080cc"/>
<circle cx="270.46" cy="618.41" r="1.5" fill="#8080cc"/>
<circle cx="274.32" cy="616.30" r="1.5" fill="#8080cc"/>
<circle cx="278.18" cy="614.58" r="1.5" fill="#8080cc"/>
<circle cx="282.04" cy="613.38" r="1.5" fill="#8080cc"/>
<circle cx="285.90" cy="612.22" r="1.5" fill="#8080cc"/>
<circle cx="289.76" cy="611.16" r="1.5" fill="#8080cc"/>
<circle cx="293.62" cy="610.12" r="1.5" fill="#8080cc"/>
<circle cx="297.48" cy="609.20" r="1.5" fill="#8080cc"/>
<path d="M210.30,666.00 C211.08,665.85 213.45,665.55 215.00,665.10 C216.55,664.65 218.10,664.03 219.60,663.30 C221.10,662.57 222.47,661.63 224.00,660.70 C225.53,659.77 227.20,658.80 228.80,657.70 C230.40,656.60 232.02,655.33 233.60,654.10 C235.18,652.87 236.75,651.67 238.30,650.30 C239.85,648.93 241.30,647.42 242.90,645.90 C244.50,644.38 246.32,642.78 247.90,641.20 C249.48,639.62 250.83,638.13 252.40,636.40 C253.97,634.67 255.63,632.55 257.30,630.80 C258.97,629.05 260.77,627.53 262.40,625.90 C264.03,624.27 265.48,622.47 267.10,621.00 C268.72,619.53 270.45,618.30 272.10,617.10 C273.75,615.90 275.32,614.77 277.00,613.80 C278.68,612.83 280.53,611.95 282.20,611.30 C283.87,610.65 285.33,610.37 287.00,609.90 C288.67,609.43 290.52,608.95 292.20,608.50 C293.88,608.05 296.28,607.42 297.10,607.20" stroke="#ad1033" stroke-width="1.5" fill="none" stroke-linejoin="round" stroke-linecap="round"/>
<rect x="208.75" y="664.45" width="3.1" height="3.1" fill="#ad1033"/>
<rect x="213.45" y="663.55" width="3.1" height="3.1" fill="#ad1033"/>
<rect x="218.05" y="661.75" width="3.1" height="3.1" fill="#ad1033"/>
<rect x="222.45" y="659.15" width="3.1" height="3.1" fill="#ad1033"/>
<rect x="227.25" y="656.15" width="3.1" height="3.1" fill="#ad1033"/>
<rect x="232.05" y="652.55" width="3.1" height="3.1" fill="#ad1033"/>
<rect x="236.75" y="648.75" width="3.1" height="3.1" fill="#ad1033"/>
<rect x="241.35" y="644.35" width="3.1" height="3.1" fill="#ad1033"/>
<rect x="246.35" y="639.65" width="3.1" height="3.1" fill="#ad1033"/>
<rect x="250.85" y="634.85" width="3.1" height="3.1" fill="#ad1033"/>
<rect x="255.75" y="629.25" width="3.1" height="3.1" fill="#ad1033"/>
<rect x="260.85" y="624.35" width="3.1" height="3.1" fill="#ad1033"/>
<rect x="265.55" y="619.45" width="3.1" height="3.1" fill="#ad1033"/>
<rect x="270.55" y="615.55" width="3.1" height="3.1" fill="#ad1033"/>
<rect x="275.45" y="612.25" width="3.1" height="3.1" fill="#ad1033"/>
<rect x="280.65" y="609.75" width="3.1" height="3.1" fill="#ad1033"/>
<rect x="285.45" y="608.35" width="3.1" height="3.1" fill="#ad1033"/>
<rect x="290.65" y="606.95" width="3.1" height="3.1" fill="#ad1033"/>
<rect x="295.55" y="605.65" width="3.1" height="3.1" fill="#ad1033"/>
<circle cx="258.20" cy="645.70" r="1.3" fill="#8080cc"/>
<text x="263.4" y="647.8" font-size="7.4" textLength="62.8" lengthAdjust="spacingAndGlyphs" fill="#1c1c1c" stroke="#1c1c1c" stroke-width="0.18">gC1qR, D5-2, Zn<tspan font-size="5" dy="-3">2+</tspan></text>
<rect x="256.90" y="654.60" width="2.6" height="2.6" fill="#ad1033"/>
<text x="263.4" y="658.2" font-size="7.4" textLength="66.6" lengthAdjust="spacingAndGlyphs" fill="#1c1c1c" stroke="#1c1c1c" stroke-width="0.18">gC1qR, D5-2, EDTA</text>
<line x1="379.6" y1="600.6" x2="379.6" y2="671.0" stroke="#3a3a3a" stroke-width="1.3"/>
<line x1="379.0" y1="671.0" x2="484.5" y2="671.0" stroke="#3a3a3a" stroke-width="1.3"/>
<line x1="376.6" y1="603.3" x2="379.6" y2="603.3" stroke="#3a3a3a" stroke-width="0.9"/>
<text x="374.8" y="606.3" font-size="8.3" text-anchor="end" textLength="4.23" lengthAdjust="spacingAndGlyphs" fill="#1c1c1c" stroke="#1c1c1c" stroke-width="0.18">0</text>
<line x1="376.6" y1="616.78" x2="379.6" y2="616.78" stroke="#3a3a3a" stroke-width="0.9"/>
<text x="374.8" y="619.78" font-size="8.3" text-anchor="end" textLength="10.98" lengthAdjust="spacingAndGlyphs" fill="#1c1c1c" stroke="#1c1c1c" stroke-width="0.18">-10</text>
<line x1="376.6" y1="630.26" x2="379.6" y2="630.26" stroke="#3a3a3a" stroke-width="0.9"/>
<text x="374.8" y="633.26" font-size="8.3" text-anchor="end" textLength="10.98" lengthAdjust="spacingAndGlyphs" fill="#1c1c1c" stroke="#1c1c1c" stroke-width="0.18">-20</text>
<line x1="376.6" y1="643.74" x2="379.6" y2="643.74" stroke="#3a3a3a" stroke-width="0.9"/>
<text x="374.8" y="646.74" font-size="8.3" text-anchor="end" textLength="10.98" lengthAdjust="spacingAndGlyphs" fill="#1c1c1c" stroke="#1c1c1c" stroke-width="0.18">-30</text>
<line x1="376.6" y1="657.2199999999999" x2="379.6" y2="657.2199999999999" stroke="#3a3a3a" stroke-width="0.9"/>
<text x="374.8" y="660.2199999999999" font-size="8.3" text-anchor="end" textLength="10.98" lengthAdjust="spacingAndGlyphs" fill="#1c1c1c" stroke="#1c1c1c" stroke-width="0.18">-40</text>
<line x1="376.6" y1="670.6999999999999" x2="379.6" y2="670.6999999999999" stroke="#3a3a3a" stroke-width="0.9"/>
<text x="374.8" y="673.6999999999999" font-size="8.3" text-anchor="end" textLength="10.98" lengthAdjust="spacingAndGlyphs" fill="#1c1c1c" stroke="#1c1c1c" stroke-width="0.18">-50</text>
<line x1="379.6" y1="671.0" x2="379.6" y2="673.5" stroke="#3a3a3a" stroke-width="0.9"/>
<text x="379.6" y="683.6" font-size="8.3" text-anchor="middle" textLength="4.23" lengthAdjust="spacingAndGlyphs" fill="#1c1c1c" stroke="#1c1c1c" stroke-width="0.18">0</text>
<line x1="400.0" y1="671.0" x2="400.0" y2="673.5" stroke="#3a3a3a" stroke-width="0.9"/>
<text x="400.0" y="683.6" font-size="8.3" text-anchor="middle" textLength="4.23" lengthAdjust="spacingAndGlyphs" fill="#1c1c1c" stroke="#1c1c1c" stroke-width="0.18">1</text>
<line x1="420.40000000000003" y1="671.0" x2="420.40000000000003" y2="673.5" stroke="#3a3a3a" stroke-width="0.9"/>
<text x="420.40000000000003" y="683.6" font-size="8.3" text-anchor="middle" textLength="4.23" lengthAdjust="spacingAndGlyphs" fill="#1c1c1c" stroke="#1c1c1c" stroke-width="0.18">2</text>
<line x1="440.8" y1="671.0" x2="440.8" y2="673.5" stroke="#3a3a3a" stroke-width="0.9"/>
<text x="440.8" y="683.6" font-size="8.3" text-anchor="middle" textLength="4.23" lengthAdjust="spacingAndGlyphs" fill="#1c1c1c" stroke="#1c1c1c" stroke-width="0.18">3</text>
<line x1="461.20000000000005" y1="671.0" x2="461.20000000000005" y2="673.5" stroke="#3a3a3a" stroke-width="0.9"/>
<text x="461.20000000000005" y="683.6" font-size="8.3" text-anchor="middle" textLength="4.23" lengthAdjust="spacingAndGlyphs" fill="#1c1c1c" stroke="#1c1c1c" stroke-width="0.18">4</text>
<line x1="481.6" y1="671.0" x2="481.6" y2="673.5" stroke="#3a3a3a" stroke-width="0.9"/>
<text x="481.6" y="683.6" font-size="8.3" text-anchor="middle" textLength="4.23" lengthAdjust="spacingAndGlyphs" fill="#1c1c1c" stroke="#1c1c1c" stroke-width="0.18">5</text>
<text x="414.0" y="696.4" font-size="9.0" textLength="35.8" lengthAdjust="spacingAndGlyphs" fill="#1c1c1c" stroke="#1c1c1c" stroke-width="0.18">Molar ratio</text>
<text transform="translate(357.6,672.1) rotate(-90)" font-size="9.2" fill="#1c1c1c" stroke="#1c1c1c" stroke-width="0.12" textLength="73.6" lengthAdjust="spacingAndGlyphs">kcal mol <tspan font-size="5.8" dy="-3.4">-1</tspan><tspan dy="3.4"> of injectant</tspan></text>
<path d="M381.90,651.80 C382.42,651.85 383.98,652.10 385.00,652.10 C386.02,652.10 387.02,651.97 388.00,651.80 C388.98,651.63 389.95,651.40 390.90,651.10 C391.85,650.80 392.75,650.35 393.70,650.00 C394.65,649.65 395.62,649.43 396.60,649.00 C397.58,648.57 398.62,647.93 399.60,647.40 C400.58,646.87 401.47,646.43 402.50,645.80 C403.53,645.17 404.68,644.32 405.80,643.60 C406.92,642.88 408.05,642.18 409.20,641.50 C410.35,640.82 411.53,640.17 412.70,639.50 C413.87,638.83 415.02,638.15 416.20,637.50 C417.38,636.85 418.58,636.32 419.80,635.60 C421.02,634.88 422.33,634.03 423.50,633.20 C424.67,632.37 425.65,631.47 426.80,630.60 C427.95,629.73 429.23,628.90 430.40,628.00 C431.57,627.10 432.62,626.12 433.80,625.20 C434.98,624.28 436.27,623.43 437.50,622.50 C438.73,621.57 439.95,620.55 441.20,619.60 C442.45,618.65 443.75,617.67 445.00,616.80 C446.25,615.93 447.47,615.13 448.70,614.40 C449.93,613.67 451.15,613.03 452.40,612.40 C453.65,611.77 454.92,611.13 456.20,610.60 C457.48,610.07 458.85,609.60 460.10,609.20 C461.35,608.80 462.47,608.50 463.70,608.20 C464.93,607.90 466.23,607.63 467.50,607.40 C468.77,607.17 470.08,606.95 471.30,606.80 C472.52,606.65 473.57,606.53 474.80,606.50 C476.03,606.47 478.05,606.58 478.70,606.60" stroke="#8080cc" stroke-width="1.0" fill="none" stroke-linejoin="round" stroke-linecap="round"/>
<circle cx="381.90" cy="651.80" r="1.3" fill="#8080cc"/>
<circle cx="385.00" cy="652.10" r="1.3" fill="#8080cc"/>
<circle cx="388.00" cy="651.80" r="1.3" fill="#8080cc"/>
<circle cx="390.90" cy="651.10" r="1.3" fill="#8080cc"/>
<circle cx="393.70" cy="650.00" r="1.3" fill="#8080cc"/>
<circle cx="396.60" cy="649.00" r="1.3" fill="#8080cc"/>
<circle cx="399.60" cy="647.40" r="1.3" fill="#8080cc"/>
<circle cx="402.50" cy="645.80" r="1.3" fill="#8080cc"/>
<circle cx="405.80" cy="643.60" r="1.3" fill="#8080cc"/>
<circle cx="409.20" cy="641.50" r="1.3" fill="#8080cc"/>
<circle cx="412.70" cy="639.50" r="1.3" fill="#8080cc"/>
<circle cx="416.20" cy="637.50" r="1.3" fill="#8080cc"/>
<circle cx="419.80" cy="635.60" r="1.3" fill="#8080cc"/>
<circle cx="423.50" cy="633.20" r="1.3" fill="#8080cc"/>
<circle cx="426.80" cy="630.60" r="1.3" fill="#8080cc"/>
<circle cx="430.40" cy="628.00" r="1.3" fill="#8080cc"/>
<circle cx="433.80" cy="625.20" r="1.3" fill="#8080cc"/>
<circle cx="437.50" cy="622.50" r="1.3" fill="#8080cc"/>
<circle cx="441.20" cy="619.60" r="1.3" fill="#8080cc"/>
<circle cx="445.00" cy="616.80" r="1.3" fill="#8080cc"/>
<circle cx="448.70" cy="614.40" r="1.3" fill="#8080cc"/>
<circle cx="452.40" cy="612.40" r="1.3" fill="#8080cc"/>
<circle cx="456.20" cy="610.60" r="1.3" fill="#8080cc"/>
<circle cx="460.10" cy="609.20" r="1.3" fill="#8080cc"/>
<circle cx="463.70" cy="608.20" r="1.3" fill="#8080cc"/>
<circle cx="467.50" cy="607.40" r="1.3" fill="#8080cc"/>
<circle cx="471.30" cy="606.80" r="1.3" fill="#8080cc"/>
<circle cx="474.80" cy="606.50" r="1.3" fill="#8080cc"/>
<circle cx="478.70" cy="606.60" r="1.3" fill="#8080cc"/>
<circle cx="385.60" cy="603.86" r="1.55" fill="#ad1033"/>
<circle cx="391.68" cy="604.20" r="1.55" fill="#ad1033"/>
<circle cx="397.76" cy="604.01" r="1.55" fill="#ad1033"/>
<circle cx="403.84" cy="604.26" r="1.55" fill="#ad1033"/>
<circle cx="409.92" cy="604.29" r="1.55" fill="#ad1033"/>
<circle cx="416.00" cy="603.67" r="1.55" fill="#ad1033"/>
<circle cx="422.08" cy="603.61" r="1.55" fill="#ad1033"/>
<circle cx="428.16" cy="604.52" r="1.55" fill="#ad1033"/>
<circle cx="434.24" cy="603.89" r="1.55" fill="#ad1033"/>
<circle cx="440.32" cy="603.86" r="1.55" fill="#ad1033"/>
<circle cx="446.40" cy="604.70" r="1.55" fill="#ad1033"/>
<circle cx="452.48" cy="604.12" r="1.55" fill="#ad1033"/>
<circle cx="458.56" cy="604.52" r="1.55" fill="#ad1033"/>
<circle cx="464.64" cy="604.12" r="1.55" fill="#ad1033"/>
<circle cx="470.72" cy="604.30" r="1.55" fill="#ad1033"/>
<circle cx="476.80" cy="603.77" r="1.55" fill="#ad1033"/>
<circle cx="382.30" cy="605.01" r="1.5" fill="#eb9a1e"/>
<circle cx="388.38" cy="605.19" r="1.5" fill="#eb9a1e"/>
<circle cx="394.46" cy="604.92" r="1.5" fill="#eb9a1e"/>
<circle cx="400.54" cy="605.09" r="1.5" fill="#eb9a1e"/>
<circle cx="406.62" cy="605.04" r="1.5" fill="#eb9a1e"/>
<circle cx="412.70" cy="604.55" r="1.5" fill="#eb9a1e"/>
<circle cx="418.78" cy="605.11" r="1.5" fill="#eb9a1e"/>
<circle cx="424.86" cy="604.97" r="1.5" fill="#eb9a1e"/>
<circle cx="430.94" cy="604.74" r="1.5" fill="#eb9a1e"/>
<circle cx="437.02" cy="604.52" r="1.5" fill="#eb9a1e"/>
<circle cx="443.10" cy="605.19" r="1.5" fill="#eb9a1e"/>
<circle cx="449.18" cy="604.88" r="1.5" fill="#eb9a1e"/>
<circle cx="455.26" cy="605.08" r="1.5" fill="#eb9a1e"/>
<circle cx="461.34" cy="605.20" r="1.5" fill="#eb9a1e"/>
<circle cx="467.42" cy="605.07" r="1.5" fill="#eb9a1e"/>
<circle cx="473.50" cy="605.24" r="1.5" fill="#eb9a1e"/>
<circle cx="385.00" cy="606.00" r="1.5" fill="#3b1450"/>
<circle cx="391.10" cy="606.00" r="1.5" fill="#3b1450"/>
<circle cx="397.20" cy="606.00" r="1.5" fill="#3b1450"/>
<circle cx="403.30" cy="606.00" r="1.5" fill="#3b1450"/>
<circle cx="409.40" cy="606.00" r="1.5" fill="#3b1450"/>
<circle cx="415.50" cy="606.00" r="1.5" fill="#3b1450"/>
<circle cx="421.60" cy="606.00" r="1.5" fill="#3b1450"/>
<circle cx="427.70" cy="606.00" r="1.5" fill="#3b1450"/>
<circle cx="433.80" cy="606.00" r="1.5" fill="#3b1450"/>
<circle cx="439.90" cy="606.00" r="1.5" fill="#3b1450"/>
<circle cx="446.00" cy="606.00" r="1.5" fill="#3b1450"/>
<circle cx="452.10" cy="606.00" r="1.5" fill="#3b1450"/>
<circle cx="458.20" cy="606.00" r="1.5" fill="#3b1450"/>
<circle cx="464.30" cy="606.00" r="1.5" fill="#3b1450"/>
<circle cx="470.40" cy="606.00" r="1.5" fill="#3b1450"/>
<circle cx="476.50" cy="606.00" r="1.5" fill="#3b1450"/>
<circle cx="440.70" cy="629.50" r="1.3" fill="#ad1033"/>
<text x="445.2" y="631.2" font-size="7.4" textLength="66.1" lengthAdjust="spacingAndGlyphs" fill="#1c1c1c" stroke="#1c1c1c" stroke-width="0.18">gC1qR, HK 401-438</text>
<circle cx="440.70" cy="640.40" r="1.3" fill="#eb9a1e"/>
<text x="445.2" y="642.1" font-size="7.4" textLength="66.1" lengthAdjust="spacingAndGlyphs" fill="#1c1c1c" stroke="#1c1c1c" stroke-width="0.18">gC1qR, HK 439-455</text>
<circle cx="440.70" cy="651.50" r="1.3" fill="#3b1450"/>
<text x="445.2" y="653.2" font-size="7.4" textLength="66.1" lengthAdjust="spacingAndGlyphs" fill="#1c1c1c" stroke="#1c1c1c" stroke-width="0.18">gC1qR, HK 457-475</text>
<circle cx="440.70" cy="662.10" r="1.3" fill="#8080cc"/>
<text x="445.2" y="663.8000000000001" font-size="7.4" textLength="66.1" lengthAdjust="spacingAndGlyphs" fill="#1c1c1c" stroke="#1c1c1c" stroke-width="0.18">gC1qR, HK 493-516</text>
<rect x="0.6" y="0.6" width="518.8" height="704.8" fill="none" stroke="#000" stroke-width="1.3"/>
</svg></body></html>
